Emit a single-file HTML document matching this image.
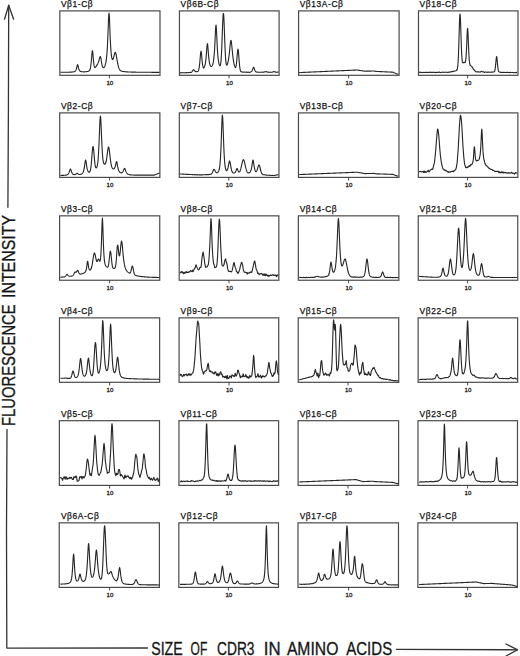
<!DOCTYPE html>
<html><head><meta charset="utf-8"><style>
html,body{margin:0;padding:0;background:#fff;}
body{width:520px;height:656px;overflow:hidden;font-family:"Liberation Sans",sans-serif;}
svg{display:block;}
</style></head><body>
<svg width="520" height="656" viewBox="0 0 520 656">
<rect width="520" height="656" fill="#fff"/>
<g fill="none" stroke="#333" stroke-width="1.3" stroke-linecap="round" stroke-linejoin="round">
<path d="M8.7,5.4 L8.4,110 L7.9,207.3"/>
<path d="M7.0,429.4 L6.5,530 L6.8,648.1 L147.5,648.0"/>
<path d="M396.4,649.3 L517.4,649.8"/>
<path d="M4.5,19.2 L8.7,5.2 L13.6,19.2"/>
<path d="M506,644 L517.6,649.8 L506,656"/>
</g>
<text x="151.20" y="655.4" textLength="31.60" font-family="Liberation Sans, sans-serif" font-size="17.6" fill="#151515" stroke="#151515" stroke-width="0.3" lengthAdjust="spacingAndGlyphs">SIZE</text>
<text x="190.60" y="655.4" textLength="16.60" font-family="Liberation Sans, sans-serif" font-size="17.6" fill="#151515" stroke="#151515" stroke-width="0.3" lengthAdjust="spacingAndGlyphs">OF</text>
<text x="217.00" y="655.4" textLength="37.50" font-family="Liberation Sans, sans-serif" font-size="17.6" fill="#151515" stroke="#151515" stroke-width="0.3" lengthAdjust="spacingAndGlyphs">CDR3</text>
<text x="263.80" y="655.4" textLength="16.80" font-family="Liberation Sans, sans-serif" font-size="17.6" fill="#151515" stroke="#151515" stroke-width="0.3" lengthAdjust="spacingAndGlyphs">IN</text>
<text x="286.90" y="655.4" textLength="51.50" font-family="Liberation Sans, sans-serif" font-size="17.6" fill="#151515" stroke="#151515" stroke-width="0.3" lengthAdjust="spacingAndGlyphs">AMINO</text>
<text x="346.20" y="655.4" textLength="46.00" font-family="Liberation Sans, sans-serif" font-size="17.6" fill="#151515" stroke="#151515" stroke-width="0.3" lengthAdjust="spacingAndGlyphs">ACIDS</text>
<text transform="translate(15.1,425.90) rotate(-90)" textLength="121.50" font-family="Liberation Sans, sans-serif" font-size="17.6" fill="#151515" stroke="#151515" stroke-width="0.3" lengthAdjust="spacingAndGlyphs">FLUORESCENCE</text>
<text transform="translate(15.1,298.00) rotate(-90)" textLength="83.00" font-family="Liberation Sans, sans-serif" font-size="17.6" fill="#151515" stroke="#151515" stroke-width="0.3" lengthAdjust="spacingAndGlyphs">INTENSITY</text>
<rect x="59.84" y="10.90" width="100.15" height="64.40" fill="none" stroke="#4a4a4a" stroke-width="1.2"/>
<text x="60.95" y="6.80" font-family="Liberation Sans, sans-serif" font-weight="normal" font-size="8.4" letter-spacing="0.6" fill="#111" stroke="#111" stroke-width="0.25">Vβ1-Cβ</text>
<path d="M109.40,75.30 V78.40" stroke="#333" stroke-width="0.9"/>
<text x="109.80" y="84.70" font-family="Liberation Sans, sans-serif" font-size="6.1" fill="#1a1a1a" stroke="#1a1a1a" stroke-width="0.3" text-anchor="middle">10</text>
<polyline fill="none" stroke="#262626" stroke-width="1.12" stroke-linejoin="round" points="60.45,72.31 60.75,72.30 61.05,72.30 61.35,72.30 61.65,72.30 61.95,72.30 62.25,72.29 62.55,72.29 62.85,72.29 63.15,72.29 63.45,72.28 63.75,72.28 64.05,72.28 64.35,72.27 64.65,72.27 64.95,72.27 65.25,72.26 65.55,72.26 65.85,72.26 66.15,72.25 66.45,72.25 66.75,72.24 67.05,72.24 67.35,72.23 67.65,72.23 67.95,72.22 68.25,72.21 68.55,72.21 68.85,72.20 69.15,72.19 69.45,72.18 69.75,72.17 70.05,72.16 70.35,72.15 70.65,72.14 70.95,72.12 71.25,72.10 71.55,72.08 71.85,72.06 72.15,72.04 72.45,72.01 72.75,71.97 73.05,71.93 73.35,71.88 73.65,71.83 73.95,71.75 74.25,71.66 74.55,71.55 74.85,71.39 75.15,71.18 75.45,70.88 75.75,70.47 76.05,69.89 76.35,69.09 76.65,68.02 76.95,66.69 77.25,65.35 77.55,64.62 77.85,65.00 78.15,66.20 78.45,67.57 78.75,68.72 79.05,69.60 79.35,70.24 79.65,70.69 79.95,71.01 80.25,71.23 80.55,71.39 80.85,71.51 81.15,71.60 81.45,71.66 81.75,71.71 82.05,71.75 82.35,71.78 82.65,71.80 82.95,71.81 83.25,71.82 83.55,71.83 83.85,71.83 84.15,71.82 84.45,71.82 84.75,71.81 85.05,71.79 85.35,71.78 85.65,71.76 85.95,71.73 86.25,71.70 86.55,71.66 86.85,71.62 87.15,71.57 87.45,71.51 87.75,71.44 88.05,71.35 88.35,71.25 88.65,71.12 88.95,70.95 89.25,70.72 89.55,70.38 89.85,69.88 90.15,69.11 90.45,67.95 90.75,66.26 91.05,63.92 91.35,60.88 91.65,57.24 91.95,53.47 92.25,50.81 92.55,50.74 92.85,53.24 93.15,56.83 93.45,60.28 93.75,63.08 94.05,65.13 94.35,66.47 94.65,67.23 94.95,67.53 95.25,67.50 95.55,67.26 95.85,66.88 96.15,66.42 96.45,65.92 96.75,65.40 97.05,64.89 97.35,64.38 97.65,63.86 97.95,63.28 98.25,62.61 98.55,61.79 98.85,60.82 99.15,59.72 99.45,58.54 99.75,57.44 100.05,56.66 100.35,56.54 100.65,57.26 100.95,58.70 101.25,60.50 101.55,62.35 101.85,64.03 102.15,65.44 102.45,66.50 102.75,67.23 103.05,67.65 103.35,67.81 103.65,67.76 103.95,67.54 104.25,67.18 104.55,66.68 104.85,66.03 105.15,65.22 105.45,64.20 105.75,62.93 106.05,61.33 106.35,59.30 106.65,56.69 106.95,53.35 107.25,49.05 107.55,43.58 107.85,36.80 108.15,28.92 108.45,20.93 108.75,14.85 109.05,13.06 109.35,16.38 109.65,23.27 109.95,31.27 110.25,38.68 110.55,44.81 110.85,49.60 111.15,53.20 111.45,55.82 111.75,57.63 112.05,58.78 112.35,59.38 112.65,59.50 112.95,59.22 113.25,58.59 113.55,57.70 113.85,56.61 114.15,55.41 114.45,54.22 114.75,53.20 115.05,52.53 115.35,52.36 115.65,52.80 115.95,53.80 116.25,55.22 116.55,56.90 116.85,58.69 117.15,60.47 117.45,62.17 117.75,63.73 118.05,65.13 118.35,66.35 118.65,67.38 118.95,68.24 119.25,68.93 119.55,69.49 119.85,69.92 120.15,70.26 120.45,70.53 120.75,70.73 121.05,70.90 121.35,71.03 121.65,71.13 121.95,71.22 122.25,71.30 122.55,71.36 122.85,71.42 123.15,71.47 123.45,71.52 123.75,71.57 124.05,71.61 124.35,71.64 124.65,71.68 124.95,71.71 125.25,71.74 125.55,71.77 125.85,71.79 126.15,71.82 126.45,71.84 126.75,71.86 127.05,71.88 127.35,71.90 127.65,71.92 127.95,71.94 128.25,71.95 128.55,71.97 128.85,71.98 129.15,71.99 129.45,72.01 129.75,72.02 130.05,72.03 130.35,72.04 130.65,72.05 130.95,72.06 131.25,72.07 131.55,72.08 131.85,72.09 132.15,72.10 132.45,72.11 132.75,72.12 133.05,72.12 133.35,72.13 133.65,72.14 133.95,72.14 134.25,72.15 134.55,72.16 134.85,72.16 135.15,72.17 135.45,72.17 135.75,72.18 136.05,72.18 136.35,72.19 136.65,72.19 136.95,72.20 137.25,72.20 137.55,72.21 137.85,72.21 138.15,72.22 138.45,72.22 138.75,72.22 139.05,72.23 139.35,72.23 139.65,72.23 139.95,72.24 140.25,72.24 140.55,72.24 140.85,72.25 141.15,72.25 141.45,72.25 141.75,72.25 142.05,72.26 142.35,72.26 142.65,72.26 142.95,72.27 143.25,72.27 143.55,72.27 143.85,72.27 144.15,72.27 144.45,72.28 144.75,72.28 145.05,72.28 145.35,72.28 145.65,72.28 145.95,72.29 146.25,72.29 146.55,72.29 146.85,72.29 147.15,72.29 147.45,72.30 147.75,72.30 148.05,72.30 148.35,72.30 148.65,72.30 148.95,72.30 149.25,72.30 149.55,72.31 149.85,72.31 150.15,72.31 150.45,72.31 150.75,72.31 151.05,72.31 151.35,72.31 151.65,72.32 151.95,72.32 152.25,72.32 152.55,72.32 152.85,72.32 153.15,72.32 153.45,72.32 153.75,72.32 154.05,72.32 154.35,72.33 154.65,72.33 154.95,72.33 155.25,72.33 155.55,72.33 155.85,72.33 156.15,72.33 156.45,72.33 156.75,72.33 157.05,72.33 157.35,72.33 157.65,72.33 157.95,72.34 158.25,72.34 158.55,72.34 158.85,72.34 159.15,72.34 159.45,72.34"/>
<rect x="179.44" y="10.90" width="99.65" height="64.40" fill="none" stroke="#4a4a4a" stroke-width="1.2"/>
<text x="180.55" y="6.80" font-family="Liberation Sans, sans-serif" font-weight="normal" font-size="8.4" letter-spacing="0.6" fill="#111" stroke="#111" stroke-width="0.25">Vβ6B-Cβ</text>
<path d="M229.00,75.30 V78.40" stroke="#333" stroke-width="0.9"/>
<text x="229.40" y="84.70" font-family="Liberation Sans, sans-serif" font-size="6.1" fill="#1a1a1a" stroke="#1a1a1a" stroke-width="0.3" text-anchor="middle">10</text>
<polyline fill="none" stroke="#262626" stroke-width="1.12" stroke-linejoin="round" points="180.05,72.86 180.35,72.84 180.65,72.80 180.95,72.82 181.25,72.75 181.55,72.65 181.85,72.72 182.15,72.83 182.45,72.80 182.75,72.73 183.05,72.78 183.35,72.80 183.65,72.80 183.95,72.75 184.25,72.69 184.55,72.70 184.85,72.76 185.15,72.84 185.45,72.83 185.75,72.70 186.05,72.62 186.35,72.66 186.65,72.64 186.95,72.66 187.25,72.79 187.55,72.81 187.85,72.72 188.15,72.65 188.45,72.63 188.75,72.52 189.05,72.48 189.35,72.56 189.65,72.46 189.95,72.28 190.25,72.33 190.55,72.53 190.85,72.59 191.15,72.42 191.45,72.19 191.75,71.94 192.05,71.60 192.35,71.19 192.65,70.70 192.95,70.23 193.25,69.86 193.55,69.65 193.85,69.74 194.15,70.09 194.45,70.51 194.75,70.96 195.05,71.26 195.35,71.39 195.65,71.60 195.95,71.72 196.25,71.72 196.55,71.68 196.85,71.61 197.15,71.62 197.45,71.56 197.75,71.46 198.05,71.27 198.35,70.77 198.65,69.96 198.95,68.84 199.25,67.19 199.55,64.90 199.85,61.94 200.15,58.38 200.45,54.84 200.75,52.14 201.05,51.19 201.35,52.58 201.65,55.56 201.95,58.93 202.25,62.04 202.55,64.49 202.85,66.22 203.15,67.40 203.45,67.96 203.75,67.95 204.05,67.63 204.35,67.08 204.65,66.28 204.95,65.29 205.25,64.06 205.55,62.36 205.85,59.87 206.15,56.76 206.45,53.16 206.75,49.10 207.05,45.47 207.35,43.67 207.65,44.50 207.95,47.56 208.25,51.55 208.55,55.28 208.85,58.33 209.15,60.74 209.45,62.58 209.75,64.03 210.05,65.09 210.35,65.78 210.65,66.20 210.95,66.46 211.25,66.57 211.55,66.44 211.85,66.15 212.15,65.76 212.45,65.20 212.75,64.48 213.05,63.50 213.35,61.95 213.65,59.88 213.95,57.36 214.25,54.13 214.55,50.02 214.85,44.71 215.15,38.26 215.45,31.64 215.75,26.56 216.05,25.15 216.35,28.10 216.65,33.84 216.95,40.47 217.25,46.69 217.55,51.80 217.85,55.77 218.15,58.79 218.45,60.95 218.75,62.68 219.05,64.12 219.35,65.04 219.65,65.52 219.95,65.77 220.25,65.57 220.55,64.54 220.85,62.51 221.15,59.22 221.45,54.36 221.75,48.00 222.05,40.42 222.35,32.13 222.65,24.03 222.95,17.32 223.25,13.46 223.55,13.50 223.85,17.48 224.15,24.34 224.45,32.59 224.75,40.88 225.05,48.33 225.35,54.46 225.65,59.12 225.95,62.37 226.25,64.24 226.55,65.02 226.85,65.15 227.15,64.77 227.45,64.04 227.75,63.06 228.05,61.84 228.35,60.33 228.65,58.43 228.95,56.30 229.25,53.87 229.55,51.11 229.85,48.14 230.15,45.16 230.45,42.53 230.75,40.74 231.05,40.40 231.35,41.72 231.65,44.20 231.95,47.21 232.25,50.34 232.55,53.42 232.85,56.25 233.15,58.62 233.45,60.61 233.75,62.35 234.05,63.93 234.35,65.21 234.65,66.13 234.95,66.85 235.25,67.35 235.55,67.44 235.85,66.94 236.15,65.77 236.45,63.73 236.75,60.66 237.05,57.05 237.35,53.48 237.65,50.49 237.95,49.02 238.25,49.88 238.55,52.75 238.85,56.67 239.15,60.72 239.45,64.23 239.75,66.98 240.05,69.00 240.35,70.38 240.65,71.25 240.95,71.66 241.25,71.70 241.55,71.68 241.85,71.85 242.15,72.07 242.45,72.08 242.75,72.13 243.05,72.20 243.35,72.10 243.65,72.04 243.95,72.03 244.25,72.06 244.55,72.20 244.85,72.19 245.15,72.10 245.45,72.16 245.75,72.20 246.05,72.19 246.35,72.15 246.65,72.08 246.95,72.08 247.25,72.17 247.55,72.38 247.85,72.43 248.15,72.23 248.45,72.14 248.75,72.21 249.05,72.27 249.35,72.36 249.65,72.43 249.95,72.32 250.25,72.10 250.55,71.95 250.85,71.90 251.15,71.80 251.45,71.62 251.75,71.39 252.05,70.91 252.35,70.16 252.65,69.35 252.95,68.59 253.25,67.83 253.55,67.32 253.85,67.53 254.15,68.20 254.45,68.99 254.75,69.85 255.05,70.68 255.35,71.31 255.65,71.61 255.95,71.73 256.25,71.88 256.55,72.03 256.85,72.07 257.15,72.12 257.45,72.20 257.75,72.18 258.05,72.14 258.35,72.19 258.65,72.25 258.95,72.24 259.25,72.23 259.55,72.23 259.85,72.21 260.15,72.21 260.45,72.24 260.75,72.30 261.05,72.23 261.35,72.09 261.65,72.17 261.95,72.27 262.25,72.21 262.55,72.19 262.85,72.20 263.15,72.13 263.45,72.13 263.75,72.19 264.05,72.10 264.35,71.90 264.65,71.84 264.95,71.86 265.25,71.73 265.55,71.71 265.85,71.77 266.15,71.58 266.45,71.57 266.75,71.89 267.05,72.01 267.35,72.07 267.65,72.20 267.95,72.19 268.25,72.19 268.55,72.17 268.85,72.15 269.15,72.23 269.45,72.30 269.75,72.34 270.05,72.29 270.35,72.17 270.65,72.21 270.95,72.33 271.25,72.27 271.55,72.22 271.85,72.27 272.15,72.27 272.45,72.14 272.75,71.92 273.05,71.81 273.35,71.82 273.65,71.72 273.95,71.54 274.25,71.53 274.55,71.70 274.85,71.82 275.15,71.95 275.45,72.14 275.75,72.17 276.05,72.21 276.35,72.32 276.65,72.28 276.95,72.21 277.25,72.17 277.55,72.13 277.85,72.08 278.15,72.10 278.45,72.14"/>
<rect x="298.59" y="10.90" width="100.50" height="64.40" fill="none" stroke="#4a4a4a" stroke-width="1.2"/>
<text x="299.70" y="6.80" font-family="Liberation Sans, sans-serif" font-weight="normal" font-size="8.4" letter-spacing="0.6" fill="#111" stroke="#111" stroke-width="0.25">Vβ13A-Cβ</text>
<path d="M348.60,75.30 V78.40" stroke="#333" stroke-width="0.9"/>
<text x="349.00" y="84.70" font-family="Liberation Sans, sans-serif" font-size="6.1" fill="#1a1a1a" stroke="#1a1a1a" stroke-width="0.3" text-anchor="middle">10</text>
<polyline fill="none" stroke="#262626" stroke-width="1.12" stroke-linejoin="round" points="299.20,72.59 299.50,72.58 299.80,72.56 300.10,72.55 300.40,72.54 300.70,72.52 301.00,72.51 301.30,72.50 301.60,72.48 301.90,72.47 302.20,72.46 302.50,72.44 302.80,72.43 303.10,72.42 303.40,72.40 303.70,72.39 304.00,72.38 304.30,72.36 304.60,72.35 304.90,72.34 305.20,72.32 305.50,72.31 305.80,72.30 306.10,72.28 306.40,72.27 306.70,72.25 307.00,72.24 307.30,72.23 307.60,72.21 307.90,72.20 308.20,72.19 308.50,72.17 308.80,72.16 309.10,72.15 309.40,72.13 309.70,72.12 310.00,72.11 310.30,72.09 310.60,72.08 310.90,72.07 311.20,72.05 311.50,72.04 311.80,72.03 312.10,72.01 312.40,72.00 312.70,71.99 313.00,71.97 313.30,71.96 313.60,71.95 313.90,71.93 314.20,71.92 314.50,71.91 314.80,71.89 315.10,71.88 315.40,71.86 315.70,71.85 316.00,71.84 316.30,71.82 316.60,71.81 316.90,71.80 317.20,71.78 317.50,71.77 317.80,71.76 318.10,71.74 318.40,71.73 318.70,71.72 319.00,71.70 319.30,71.69 319.60,71.68 319.90,71.66 320.20,71.65 320.50,71.64 320.80,71.62 321.10,71.61 321.40,71.60 321.70,71.58 322.00,71.57 322.30,71.56 322.60,71.54 322.90,71.53 323.20,71.52 323.50,71.50 323.80,71.49 324.10,71.47 324.40,71.46 324.70,71.45 325.00,71.43 325.30,71.42 325.60,71.41 325.90,71.39 326.20,71.38 326.50,71.37 326.80,71.35 327.10,71.34 327.40,71.33 327.70,71.31 328.00,71.30 328.30,71.29 328.60,71.27 328.90,71.26 329.20,71.25 329.50,71.23 329.80,71.22 330.10,71.21 330.40,71.19 330.70,71.18 331.00,71.17 331.30,71.15 331.60,71.14 331.90,71.13 332.20,71.11 332.50,71.10 332.80,71.08 333.10,71.07 333.40,71.06 333.70,71.04 334.00,71.03 334.30,71.02 334.60,71.00 334.90,70.99 335.20,70.98 335.50,70.96 335.80,70.95 336.10,70.94 336.40,70.92 336.70,70.91 337.00,70.90 337.30,70.88 337.60,70.87 337.90,70.86 338.20,70.84 338.50,70.83 338.80,70.82 339.10,70.80 339.40,70.79 339.70,70.78 340.00,70.76 340.30,70.75 340.60,70.74 340.90,70.72 341.20,70.71 341.50,70.69 341.80,70.68 342.10,70.67 342.40,70.65 342.70,70.64 343.00,70.63 343.30,70.61 343.60,70.60 343.90,70.59 344.20,70.57 344.50,70.56 344.80,70.55 345.10,70.53 345.40,70.52 345.70,70.51 346.00,70.49 346.30,70.48 346.60,70.47 346.90,70.45 347.20,70.44 347.50,70.43 347.80,70.41 348.10,70.40 348.40,70.39 348.70,70.37 349.00,70.36 349.30,70.35 349.60,70.33 349.90,70.32 350.20,70.30 350.50,70.29 350.80,70.28 351.10,70.26 351.40,70.25 351.70,70.24 352.00,70.22 352.30,70.21 352.60,70.20 352.90,70.18 353.20,70.17 353.50,70.16 353.80,70.14 354.10,70.13 354.40,70.12 354.70,70.10 355.00,70.09 355.30,70.08 355.60,70.06 355.90,70.05 356.20,70.04 356.50,70.02 356.80,70.01 357.10,70.02 357.40,70.06 357.70,70.11 358.00,70.15 358.30,70.20 358.60,70.24 358.90,70.29 359.20,70.33 359.50,70.38 359.80,70.42 360.10,70.47 360.40,70.51 360.70,70.56 361.00,70.60 361.30,70.65 361.60,70.69 361.90,70.74 362.20,70.78 362.50,70.83 362.80,70.87 363.10,70.92 363.40,70.96 363.70,71.01 364.00,71.05 364.30,71.10 364.60,71.14 364.90,71.19 365.20,71.20 365.50,71.19 365.80,71.18 366.10,71.18 366.40,71.17 366.70,71.16 367.00,71.16 367.30,71.15 367.60,71.14 367.90,71.14 368.20,71.13 368.50,71.12 368.80,71.12 369.10,71.11 369.40,71.10 369.70,71.10 370.00,71.09 370.30,71.08 370.60,71.08 370.90,71.07 371.20,71.06 371.50,71.06 371.80,71.05 372.10,71.04 372.40,71.04 372.70,71.03 373.00,71.02 373.30,71.02 373.60,71.01 373.90,71.00 374.20,71.04 374.50,71.10 374.80,71.16 375.10,71.22 375.40,71.28 375.70,71.34 376.00,71.40 376.30,71.41 376.60,71.43 376.90,71.44 377.20,71.46 377.50,71.47 377.80,71.48 378.10,71.50 378.40,71.51 378.70,71.53 379.00,71.54 379.30,71.56 379.60,71.57 379.90,71.58 380.20,71.60 380.50,71.61 380.80,71.63 381.10,71.64 381.40,71.65 381.70,71.67 382.00,71.68 382.30,71.70 382.60,71.71 382.90,71.72 383.20,71.74 383.50,71.75 383.80,71.77 384.10,71.78 384.40,71.80 384.70,71.81 385.00,71.82 385.30,71.84 385.60,71.85 385.90,71.87 386.20,71.88 386.50,71.89 386.80,71.91 387.10,71.92 387.40,71.94 387.70,71.95 388.00,71.96 388.30,71.98 388.60,71.99 388.90,72.01 389.20,72.02 389.50,72.04 389.80,72.05 390.10,72.06 390.40,72.08 390.70,72.09 391.00,72.11 391.30,72.12 391.60,72.13 391.90,72.15 392.20,72.16 392.50,72.18 392.80,72.19 393.10,72.25 393.40,72.38 393.70,72.52 394.00,72.65 394.30,72.79 394.60,72.92 394.90,73.06 395.20,73.19 395.50,73.33 395.80,73.46 396.10,73.60 396.40,73.73 396.70,73.87 397.00,74.00 397.30,74.00 397.60,74.00 397.90,74.00 398.20,74.00 398.50,74.00"/>
<rect x="418.49" y="10.90" width="99.50" height="64.40" fill="none" stroke="#4a4a4a" stroke-width="1.2"/>
<text x="419.60" y="6.80" font-family="Liberation Sans, sans-serif" font-weight="normal" font-size="8.4" letter-spacing="0.6" fill="#111" stroke="#111" stroke-width="0.25">Vβ18-Cβ</text>
<path d="M467.60,75.30 V78.40" stroke="#333" stroke-width="0.9"/>
<text x="468.00" y="84.70" font-family="Liberation Sans, sans-serif" font-size="6.1" fill="#1a1a1a" stroke="#1a1a1a" stroke-width="0.3" text-anchor="middle">10</text>
<polyline fill="none" stroke="#262626" stroke-width="1.12" stroke-linejoin="round" points="419.10,72.38 419.40,72.45 419.70,72.39 420.00,72.17 420.30,72.13 420.60,72.40 420.90,72.46 421.20,72.36 421.50,72.44 421.80,72.55 422.10,72.65 422.40,72.55 422.70,72.43 423.00,72.49 423.30,72.45 423.60,72.40 423.90,72.38 424.20,72.39 424.50,72.47 424.80,72.50 425.10,72.54 425.40,72.50 425.70,72.30 426.00,72.30 426.30,72.37 426.60,72.37 426.90,72.50 427.20,72.51 427.50,72.41 427.80,72.38 428.10,72.26 428.40,72.23 428.70,72.42 429.00,72.51 429.30,72.42 429.60,72.26 429.90,72.11 430.20,72.15 430.50,72.28 430.80,72.43 431.10,72.48 431.40,72.34 431.70,72.30 432.00,72.41 432.30,72.32 432.60,72.27 432.90,72.37 433.20,72.30 433.50,72.20 433.80,72.24 434.10,72.39 434.40,72.46 434.70,72.38 435.00,72.35 435.30,72.44 435.60,72.63 435.90,72.58 436.20,72.39 436.50,72.41 436.80,72.48 437.10,72.39 437.40,72.28 437.70,72.32 438.00,72.42 438.30,72.37 438.60,72.29 438.90,72.28 439.20,72.14 439.50,72.07 439.80,72.28 440.10,72.45 440.40,72.49 440.70,72.58 441.00,72.58 441.30,72.41 441.60,72.26 441.90,72.20 442.20,72.16 442.50,72.22 442.80,72.30 443.10,72.37 443.40,72.31 443.70,72.17 444.00,72.23 444.30,72.31 444.60,72.34 444.90,72.28 445.20,72.22 445.50,72.27 445.80,72.26 446.10,72.25 446.40,72.20 446.70,72.18 447.00,72.33 447.30,72.47 447.60,72.40 447.90,72.34 448.20,72.39 448.50,72.28 448.80,72.13 449.10,72.09 449.40,72.16 449.70,72.16 450.00,72.01 450.30,71.86 450.60,71.92 450.90,71.94 451.20,71.80 451.50,71.63 451.80,71.55 452.10,71.61 452.40,71.69 452.70,71.49 453.00,71.28 453.30,71.28 453.60,71.33 453.90,71.33 454.20,71.17 454.50,71.04 454.80,71.04 455.10,71.01 455.40,70.93 455.70,70.84 456.00,70.70 456.30,70.54 456.60,70.31 456.90,69.92 457.20,69.29 457.50,68.07 457.80,65.82 458.10,62.02 458.40,56.21 458.70,48.17 459.00,38.33 459.30,27.99 459.60,19.09 459.90,14.02 460.20,14.69 460.50,20.56 460.80,29.46 461.10,39.20 461.40,47.68 461.70,54.15 462.00,58.74 462.30,61.41 462.60,62.60 462.90,62.89 463.20,62.84 463.50,62.68 463.80,62.38 464.10,62.24 464.40,62.40 464.70,62.62 465.00,62.62 465.30,62.17 465.60,60.97 465.90,58.69 466.20,54.91 466.50,49.29 466.80,42.24 467.10,34.86 467.40,29.16 467.70,28.29 468.00,33.03 468.30,40.56 468.60,48.22 468.90,54.57 469.20,59.21 469.50,62.27 469.80,64.04 470.10,65.07 470.40,65.67 470.70,65.89 471.00,65.97 471.30,66.13 471.60,66.39 471.90,66.68 472.20,67.06 472.50,67.59 472.80,68.12 473.10,68.66 473.40,69.18 473.70,69.51 474.00,69.76 474.30,70.15 474.60,70.68 474.90,70.96 475.20,71.00 475.50,71.23 475.80,71.56 476.10,71.78 476.40,71.94 476.70,71.98 477.00,71.94 477.30,71.89 477.60,71.78 477.90,71.62 478.20,71.66 478.50,71.98 478.80,72.08 479.10,72.03 479.40,72.00 479.70,71.98 480.00,72.09 480.30,72.15 480.60,71.94 480.90,71.63 481.20,71.50 481.50,71.39 481.80,71.30 482.10,71.46 482.40,71.76 482.70,71.95 483.00,71.92 483.30,71.86 483.60,71.90 483.90,72.07 484.20,72.27 484.50,72.40 484.80,72.40 485.10,72.21 485.40,72.00 485.70,71.96 486.00,72.00 486.30,72.16 486.60,72.29 486.90,72.21 487.20,72.16 487.50,72.25 487.80,72.34 488.10,72.28 488.40,72.10 488.70,72.03 489.00,72.14 489.30,72.25 489.60,72.20 489.90,72.20 490.20,72.30 490.50,72.22 490.80,72.13 491.10,72.11 491.40,72.07 491.70,72.11 492.00,72.15 492.30,72.16 492.60,72.11 492.90,71.97 493.20,71.95 493.50,72.01 493.80,71.96 494.10,71.84 494.40,71.66 494.70,71.13 495.00,69.80 495.30,67.75 495.60,65.19 495.90,62.06 496.20,58.73 496.50,56.47 496.80,56.90 497.10,59.65 497.40,63.02 497.70,66.11 498.00,68.58 498.30,70.32 498.60,71.30 498.90,71.70 499.20,71.87 499.50,71.94 499.80,72.02 500.10,72.20 500.40,72.36 500.70,72.36 501.00,72.37 501.30,72.43 501.60,72.37 501.90,72.36 502.20,72.46 502.50,72.41 502.80,72.34 503.10,72.39 503.40,72.42 503.70,72.41 504.00,72.51 504.30,72.55 504.60,72.32 504.90,72.26 505.20,72.47 505.50,72.55 505.80,72.55 506.10,72.53 506.40,72.45 506.70,72.37 507.00,72.29 507.30,72.37 507.60,72.41 507.90,72.32 508.20,72.34 508.50,72.45 508.80,72.50 509.10,72.55 509.40,72.66 509.70,72.68 510.00,72.53 510.30,72.35 510.60,72.39 510.90,72.49 511.20,72.50 511.50,72.49 511.80,72.44 512.10,72.41 512.40,72.49 512.70,72.53 513.00,72.51 513.30,72.57 513.60,72.67 513.90,72.69 514.20,72.69 514.50,72.66 514.80,72.59 515.10,72.63 515.40,72.74 515.70,72.72 516.00,72.63 516.30,72.49 516.60,72.35 516.90,72.37 517.20,72.49"/>
<rect x="59.72" y="112.90" width="100.15" height="64.50" fill="none" stroke="#4a4a4a" stroke-width="1.2"/>
<text x="60.95" y="108.80" font-family="Liberation Sans, sans-serif" font-weight="normal" font-size="8.4" letter-spacing="0.6" fill="#111" stroke="#111" stroke-width="0.25">Vβ2-Cβ</text>
<path d="M109.60,177.40 V180.50" stroke="#333" stroke-width="0.9"/>
<text x="110.00" y="186.80" font-family="Liberation Sans, sans-serif" font-size="6.1" fill="#1a1a1a" stroke="#1a1a1a" stroke-width="0.3" text-anchor="middle">10</text>
<polyline fill="none" stroke="#262626" stroke-width="1.12" stroke-linejoin="round" points="60.45,175.45 60.75,175.45 61.05,175.44 61.35,175.43 61.65,175.42 61.95,175.41 62.25,175.40 62.55,175.39 62.85,175.38 63.15,175.36 63.45,175.35 63.75,175.33 64.05,175.31 64.35,175.29 64.65,175.27 64.95,175.24 65.25,175.21 65.55,175.17 65.85,175.13 66.15,175.08 66.45,175.01 66.75,174.93 67.05,174.83 67.35,174.69 67.65,174.51 67.95,174.26 68.25,173.92 68.55,173.48 68.85,172.90 69.15,172.17 69.45,171.29 69.75,170.32 70.05,169.45 70.35,169.01 70.65,169.23 70.95,169.97 71.25,170.92 71.55,171.83 71.85,172.60 72.15,173.20 72.45,173.67 72.75,174.01 73.05,174.26 73.35,174.44 73.65,174.55 73.95,174.62 74.25,174.64 74.55,174.63 74.85,174.57 75.15,174.47 75.45,174.33 75.75,174.15 76.05,173.93 76.35,173.70 76.65,173.50 76.95,173.40 77.25,173.44 77.55,173.60 77.85,173.81 78.15,174.02 78.45,174.20 78.75,174.34 79.05,174.44 79.35,174.49 79.65,174.52 79.95,174.51 80.25,174.47 80.55,174.42 80.85,174.33 81.15,174.23 81.45,174.09 81.75,173.92 82.05,173.71 82.35,173.43 82.65,173.07 82.95,172.59 83.25,171.96 83.55,171.12 83.85,170.02 84.15,168.60 84.45,166.80 84.75,164.66 85.05,162.39 85.35,160.58 85.65,160.01 85.95,160.96 86.25,162.91 86.55,165.07 86.85,167.00 87.15,168.56 87.45,169.75 87.75,170.64 88.05,171.27 88.35,171.71 88.65,171.99 88.95,172.15 89.25,172.17 89.55,172.04 89.85,171.72 90.15,171.10 90.45,170.06 90.75,168.48 91.05,166.23 91.35,163.28 91.65,159.72 91.95,155.79 92.25,151.92 92.55,148.68 92.85,146.73 93.15,146.55 93.45,148.15 93.75,151.03 94.05,154.54 94.35,158.11 94.65,161.32 94.95,163.92 95.25,165.80 95.55,167.02 95.85,167.67 96.15,167.89 96.45,167.77 96.75,167.35 97.05,166.62 97.35,165.47 97.65,163.76 97.95,161.26 98.25,157.75 98.55,153.08 98.85,147.19 99.15,140.23 99.45,132.61 99.75,125.11 100.05,119.04 100.35,116.09 100.65,117.36 100.95,122.26 101.25,129.14 101.55,136.51 101.85,143.44 102.15,149.41 102.45,154.20 102.75,157.79 103.05,160.33 103.35,162.02 103.65,163.09 103.95,163.73 104.25,164.08 104.55,164.23 104.85,164.19 105.15,163.97 105.45,163.53 105.75,162.82 106.05,161.78 106.35,160.37 106.65,158.59 106.95,156.49 107.25,154.17 107.55,151.80 107.85,149.62 108.15,147.93 108.45,147.05 108.75,147.22 109.05,148.43 109.35,150.44 109.65,152.94 109.95,155.63 110.25,158.27 110.55,160.69 110.85,162.77 111.15,164.49 111.45,165.83 111.75,166.84 112.05,167.58 112.35,168.10 112.65,168.47 112.95,168.71 113.25,168.85 113.55,168.90 113.85,168.84 114.15,168.67 114.45,168.35 114.75,167.84 115.05,167.11 115.35,166.11 115.65,164.85 115.95,163.42 116.25,162.15 116.55,161.59 116.85,162.12 117.15,163.54 117.45,165.28 117.75,166.94 118.05,168.35 118.35,169.48 118.65,170.37 118.95,171.06 119.25,171.59 119.55,172.00 119.85,172.31 120.15,172.54 120.45,172.71 120.75,172.82 121.05,172.88 121.35,172.88 121.65,172.82 121.95,172.69 122.25,172.47 122.55,172.16 122.85,171.73 123.15,171.19 123.45,170.52 123.75,169.78 124.05,169.05 124.35,168.53 124.65,168.41 124.95,168.78 125.25,169.49 125.55,170.34 125.85,171.17 126.15,171.90 126.45,172.52 126.75,173.02 127.05,173.43 127.35,173.75 127.65,174.00 127.95,174.20 128.25,174.35 128.55,174.47 128.85,174.57 129.15,174.64 129.45,174.71 129.75,174.76 130.05,174.81 130.35,174.84 130.65,174.88 130.95,174.91 131.25,174.93 131.55,174.96 131.85,174.98 132.15,174.99 132.45,175.01 132.75,175.03 133.05,175.04 133.35,175.05 133.65,175.06 133.95,175.07 134.25,175.08 134.55,175.09 134.85,175.10 135.15,175.10 135.45,175.11 135.75,175.11 136.05,175.12 136.35,175.12 136.65,175.13 136.95,175.13 137.25,175.13 137.55,175.14 137.85,175.14 138.15,175.14 138.45,175.15 138.75,175.15 139.05,175.15 139.35,175.15 139.65,175.15 139.95,175.16 140.25,175.16 140.55,175.16 140.85,175.16 141.15,175.16 141.45,175.16 141.75,175.16 142.05,175.16 142.35,175.17 142.65,175.17 142.95,175.17 143.25,175.17 143.55,175.17 143.85,175.17 144.15,175.17 144.45,175.17 144.75,175.17 145.05,175.17 145.35,175.17 145.65,175.17 145.95,175.17 146.25,175.17 146.55,175.17 146.85,175.17 147.15,175.17 147.45,175.17 147.75,175.17 148.05,175.17 148.35,175.17 148.65,175.17 148.95,175.17 149.25,175.17 149.55,175.17 149.85,175.17 150.15,175.17 150.45,175.17 150.75,175.16 151.05,175.16 151.35,175.16 151.65,175.16 151.95,175.16 152.25,175.16 152.55,175.16 152.85,175.16 153.15,175.16 153.45,175.16 153.75,175.16 154.05,175.14 154.35,175.02 154.65,174.90 154.95,174.78 155.25,174.66 155.55,174.54 155.85,174.42 156.15,174.30 156.45,174.18 156.75,174.06 157.05,173.94 157.35,173.82 157.65,173.71 157.95,173.59 158.25,173.47 158.55,173.35 158.85,173.23 159.15,173.17 159.45,173.17"/>
<rect x="179.32" y="112.90" width="99.65" height="64.50" fill="none" stroke="#4a4a4a" stroke-width="1.2"/>
<text x="180.55" y="108.80" font-family="Liberation Sans, sans-serif" font-weight="normal" font-size="8.4" letter-spacing="0.6" fill="#111" stroke="#111" stroke-width="0.25">Vβ7-Cβ</text>
<path d="M228.80,177.40 V180.50" stroke="#333" stroke-width="0.9"/>
<text x="229.20" y="186.80" font-family="Liberation Sans, sans-serif" font-size="6.1" fill="#1a1a1a" stroke="#1a1a1a" stroke-width="0.3" text-anchor="middle">10</text>
<polyline fill="none" stroke="#262626" stroke-width="1.12" stroke-linejoin="round" points="180.05,174.07 180.35,174.05 180.65,174.03 180.95,173.98 181.25,173.95 181.55,173.98 181.85,174.01 182.15,174.06 182.45,174.12 182.75,174.16 183.05,174.16 183.35,174.13 183.65,174.14 183.95,174.19 184.25,174.23 184.55,174.27 184.85,174.31 185.15,174.31 185.45,174.23 185.75,174.15 186.05,174.21 186.35,174.35 186.65,174.43 186.95,174.42 187.25,174.34 187.55,174.34 187.85,174.43 188.15,174.47 188.45,174.44 188.75,174.40 189.05,174.38 189.35,174.46 189.65,174.52 189.95,174.47 190.25,174.46 190.55,174.50 190.85,174.48 191.15,174.45 191.45,174.49 191.75,174.54 192.05,174.56 192.35,174.59 192.65,174.60 192.95,174.64 193.25,174.71 193.55,174.74 193.85,174.79 194.15,174.82 194.45,174.73 194.75,174.62 195.05,174.57 195.35,174.62 195.65,174.73 195.95,174.77 196.25,174.75 196.55,174.84 196.85,174.96 197.15,174.89 197.45,174.82 197.75,174.84 198.05,174.78 198.35,174.73 198.65,174.80 198.95,174.84 199.25,174.89 199.55,174.96 199.85,174.89 200.15,174.85 200.45,174.86 200.75,174.75 201.05,174.76 201.35,174.92 201.65,174.94 201.95,174.83 202.25,174.78 202.55,174.82 202.85,174.83 203.15,174.80 203.45,174.74 203.75,174.69 204.05,174.70 204.35,174.72 204.65,174.71 204.95,174.70 205.25,174.67 205.55,174.66 205.85,174.75 206.15,174.78 206.45,174.66 206.75,174.60 207.05,174.66 207.35,174.68 207.65,174.66 207.95,174.65 208.25,174.57 208.55,174.54 208.85,174.59 209.15,174.52 209.45,174.40 209.75,174.32 210.05,174.32 210.35,174.31 210.65,174.27 210.95,174.19 211.25,173.98 211.55,173.71 211.85,173.43 212.15,173.01 212.45,172.43 212.75,171.75 213.05,170.98 213.35,170.20 213.65,169.59 213.95,169.32 214.25,169.44 214.55,169.78 214.85,170.26 215.15,170.91 215.45,171.57 215.75,172.08 216.05,172.38 216.35,172.57 216.65,172.71 216.95,172.68 217.25,172.50 217.55,172.36 217.85,172.23 218.15,171.94 218.45,171.53 218.75,170.93 219.05,170.03 219.35,168.82 219.65,167.11 219.95,164.62 220.25,161.14 220.55,156.56 220.85,150.66 221.15,143.30 221.45,134.88 221.75,126.20 222.05,118.83 222.35,115.18 222.65,116.90 222.95,123.16 223.25,131.60 223.55,140.17 223.85,147.90 224.15,154.40 224.45,159.47 224.75,163.24 225.05,165.96 225.35,167.83 225.65,169.04 225.95,169.86 226.25,170.42 226.55,170.67 226.85,170.68 227.15,170.35 227.45,169.67 227.75,168.80 228.05,167.63 228.35,166.15 228.65,164.52 228.95,162.89 229.25,161.54 229.55,160.94 229.85,161.37 230.15,162.63 230.45,164.32 230.75,166.13 231.05,167.82 231.35,169.27 231.65,170.47 231.95,171.32 232.25,171.92 232.55,172.39 232.85,172.69 233.15,172.85 233.45,172.91 233.75,172.96 234.05,172.99 234.35,172.91 234.65,172.78 234.95,172.61 235.25,172.27 235.55,171.67 235.85,171.03 236.15,170.30 236.45,169.48 236.75,168.79 237.05,168.48 237.35,168.80 237.65,169.55 237.95,170.35 238.25,171.08 238.55,171.62 238.85,171.90 239.15,172.00 239.45,171.87 239.75,171.54 240.05,171.02 240.35,170.27 240.65,169.32 240.95,168.18 241.25,166.92 241.55,165.57 241.85,164.16 242.15,162.86 242.45,161.68 242.75,160.64 243.05,159.93 243.35,159.68 243.65,159.83 243.95,160.29 244.25,161.11 244.55,162.38 244.85,163.78 245.15,165.06 245.45,166.34 245.75,167.71 246.05,168.93 246.35,169.91 246.65,170.79 246.95,171.50 247.25,171.97 247.55,172.38 247.85,172.70 248.15,172.80 248.45,172.82 248.75,172.88 249.05,172.85 249.35,172.69 249.65,172.45 249.95,172.22 250.25,171.91 250.55,171.31 250.85,170.58 251.15,169.72 251.45,168.50 251.75,166.90 252.05,164.95 252.35,162.82 252.65,160.90 252.95,159.95 253.25,160.54 253.55,162.27 253.85,164.39 254.15,166.34 254.45,167.95 254.75,169.30 255.05,170.39 255.35,171.14 255.65,171.56 255.95,171.73 256.25,171.62 256.55,171.25 256.85,170.71 257.15,169.98 257.45,169.00 257.75,167.88 258.05,166.82 258.35,165.92 258.65,165.31 258.95,165.03 259.25,165.15 259.55,165.76 259.85,166.82 260.15,168.13 260.45,169.35 260.75,170.51 261.05,171.66 261.35,172.53 261.65,173.19 261.95,173.75 262.25,174.08 262.55,174.27 262.85,174.49 263.15,174.70 263.45,174.77 263.75,174.78 264.05,174.77 264.35,174.71 264.65,174.67 264.95,174.78 265.25,174.95 265.55,175.00 265.85,175.00 266.15,175.09 266.45,175.17 266.75,175.14 267.05,175.18 267.35,175.29 267.65,175.24 267.95,175.20 268.25,175.24 268.55,175.23 268.85,175.24 269.15,175.32 269.45,175.35 269.75,175.33 270.05,175.31 270.35,175.28 270.65,175.31 270.95,175.38 271.25,175.46 271.55,175.51 271.85,175.46 272.15,175.41 272.45,175.41 272.75,175.44 273.05,175.49 273.35,175.54 273.65,175.55 273.95,175.54 274.25,175.50 274.55,175.46 274.85,175.38 275.15,175.33 275.45,175.25 275.75,175.17 276.05,175.07 276.35,174.95 276.65,174.90 276.95,174.91 277.25,174.91 277.55,174.85 277.85,174.74 278.15,174.69 278.45,174.72"/>
<rect x="298.47" y="112.90" width="100.50" height="64.50" fill="none" stroke="#4a4a4a" stroke-width="1.2"/>
<text x="299.70" y="108.80" font-family="Liberation Sans, sans-serif" font-weight="normal" font-size="8.4" letter-spacing="0.6" fill="#111" stroke="#111" stroke-width="0.25">Vβ13B-Cβ</text>
<path d="M348.60,177.40 V180.50" stroke="#333" stroke-width="0.9"/>
<text x="349.00" y="186.80" font-family="Liberation Sans, sans-serif" font-size="6.1" fill="#1a1a1a" stroke="#1a1a1a" stroke-width="0.3" text-anchor="middle">10</text>
<polyline fill="none" stroke="#262626" stroke-width="1.12" stroke-linejoin="round" points="299.20,174.58 299.50,174.56 299.80,174.55 300.10,174.54 300.40,174.53 300.70,174.51 301.00,174.50 301.30,174.49 301.60,174.48 301.90,174.46 302.20,174.45 302.50,174.44 302.80,174.43 303.10,174.42 303.40,174.40 303.70,174.39 304.00,174.38 304.30,174.37 304.60,174.35 304.90,174.34 305.20,174.33 305.50,174.32 305.80,174.30 306.10,174.29 306.40,174.28 306.70,174.27 307.00,174.25 307.30,174.24 307.60,174.23 307.90,174.22 308.20,174.21 308.50,174.19 308.80,174.18 309.10,174.17 309.40,174.16 309.70,174.14 310.00,174.13 310.30,174.12 310.60,174.11 310.90,174.09 311.20,174.08 311.50,174.07 311.80,174.06 312.10,174.05 312.40,174.03 312.70,174.02 313.00,174.01 313.30,174.00 313.60,173.98 313.90,173.97 314.20,173.96 314.50,173.95 314.80,173.93 315.10,173.92 315.40,173.91 315.70,173.90 316.00,173.88 316.30,173.87 316.60,173.86 316.90,173.85 317.20,173.84 317.50,173.82 317.80,173.81 318.10,173.80 318.40,173.79 318.70,173.77 319.00,173.76 319.30,173.75 319.60,173.74 319.90,173.72 320.20,173.71 320.50,173.70 320.80,173.69 321.10,173.68 321.40,173.66 321.70,173.65 322.00,173.64 322.30,173.63 322.60,173.61 322.90,173.60 323.20,173.59 323.50,173.58 323.80,173.56 324.10,173.55 324.40,173.54 324.70,173.53 325.00,173.52 325.30,173.50 325.60,173.49 325.90,173.48 326.20,173.47 326.50,173.45 326.80,173.44 327.10,173.43 327.40,173.42 327.70,173.40 328.00,173.39 328.30,173.38 328.60,173.37 328.90,173.35 329.20,173.34 329.50,173.33 329.80,173.32 330.10,173.31 330.40,173.29 330.70,173.28 331.00,173.27 331.30,173.26 331.60,173.24 331.90,173.23 332.20,173.22 332.50,173.21 332.80,173.19 333.10,173.18 333.40,173.17 333.70,173.16 334.00,173.15 334.30,173.13 334.60,173.12 334.90,173.11 335.20,173.10 335.50,173.08 335.80,173.07 336.10,173.06 336.40,173.05 336.70,173.03 337.00,173.02 337.30,173.01 337.60,173.00 337.90,172.98 338.20,172.97 338.50,172.96 338.80,172.95 339.10,172.94 339.40,172.92 339.70,172.91 340.00,172.90 340.30,172.89 340.60,172.87 340.90,172.86 341.20,172.85 341.50,172.84 341.80,172.82 342.10,172.81 342.40,172.80 342.70,172.79 343.00,172.78 343.30,172.76 343.60,172.75 343.90,172.74 344.20,172.73 344.50,172.71 344.80,172.70 345.10,172.69 345.40,172.68 345.70,172.66 346.00,172.65 346.30,172.64 346.60,172.63 346.90,172.62 347.20,172.60 347.50,172.59 347.80,172.58 348.10,172.57 348.40,172.55 348.70,172.54 349.00,172.53 349.30,172.52 349.60,172.50 349.90,172.49 350.20,172.48 350.50,172.47 350.80,172.45 351.10,172.44 351.40,172.43 351.70,172.42 352.00,172.41 352.30,172.39 352.60,172.38 352.90,172.37 353.20,172.36 353.50,172.34 353.80,172.33 354.10,172.32 354.40,172.31 354.70,172.29 355.00,172.28 355.30,172.27 355.60,172.26 355.90,172.25 356.20,172.23 356.50,172.22 356.80,172.21 357.10,172.22 357.40,172.27 357.70,172.32 358.00,172.38 358.30,172.43 358.60,172.48 358.90,172.53 359.20,172.59 359.50,172.64 359.80,172.69 360.10,172.74 360.40,172.80 360.70,172.85 361.00,172.90 361.30,172.95 361.60,173.01 361.90,173.06 362.20,173.11 362.50,173.16 362.80,173.22 363.10,173.27 363.40,173.32 363.70,173.37 364.00,173.43 364.30,173.48 364.60,173.53 364.90,173.58 365.20,173.60 365.50,173.59 365.80,173.58 366.10,173.58 366.40,173.57 366.70,173.56 367.00,173.56 367.30,173.55 367.60,173.54 367.90,173.54 368.20,173.53 368.50,173.52 368.80,173.52 369.10,173.51 369.40,173.50 369.70,173.50 370.00,173.49 370.30,173.48 370.60,173.48 370.90,173.47 371.20,173.46 371.50,173.46 371.80,173.45 372.10,173.44 372.40,173.44 372.70,173.43 373.00,173.42 373.30,173.42 373.60,173.41 373.90,173.40 374.20,173.44 374.50,173.50 374.80,173.56 375.10,173.62 375.40,173.68 375.70,173.74 376.00,173.80 376.30,173.81 376.60,173.82 376.90,173.83 377.20,173.84 377.50,173.85 377.80,173.86 378.10,173.87 378.40,173.88 378.70,173.90 379.00,173.91 379.30,173.92 379.60,173.93 379.90,173.94 380.20,173.95 380.50,173.96 380.80,173.97 381.10,173.98 381.40,173.99 381.70,174.00 382.00,174.01 382.30,174.02 382.60,174.03 382.90,174.04 383.20,174.05 383.50,174.06 383.80,174.08 384.10,174.09 384.40,174.10 384.70,174.11 385.00,174.12 385.30,174.13 385.60,174.14 385.90,174.15 386.20,174.16 386.50,174.17 386.80,174.18 387.10,174.19 387.40,174.20 387.70,174.21 388.00,174.22 388.30,174.23 388.60,174.24 388.90,174.26 389.20,174.27 389.50,174.28 389.80,174.29 390.10,174.30 390.40,174.31 390.70,174.32 391.00,174.33 391.30,174.34 391.60,174.35 391.90,174.36 392.20,174.37 392.50,174.38 392.80,174.39 393.10,174.44 393.40,174.56 393.70,174.68 394.00,174.80 394.30,174.92 394.60,175.04 394.90,175.16 395.20,175.28 395.50,175.40 395.80,175.52 396.10,175.64 396.40,175.76 396.70,175.88 397.00,176.00 397.30,176.00 397.60,176.00 397.90,176.00 398.20,176.00 398.50,176.00"/>
<rect x="418.37" y="112.90" width="99.50" height="64.50" fill="none" stroke="#4a4a4a" stroke-width="1.2"/>
<text x="419.60" y="108.80" font-family="Liberation Sans, sans-serif" font-weight="normal" font-size="8.4" letter-spacing="0.6" fill="#111" stroke="#111" stroke-width="0.25">Vβ20-Cβ</text>
<path d="M467.60,177.40 V180.50" stroke="#333" stroke-width="0.9"/>
<text x="468.00" y="186.80" font-family="Liberation Sans, sans-serif" font-size="6.1" fill="#1a1a1a" stroke="#1a1a1a" stroke-width="0.3" text-anchor="middle">10</text>
<polyline fill="none" stroke="#262626" stroke-width="1.12" stroke-linejoin="round" points="419.10,171.87 419.40,171.46 419.70,171.61 420.00,171.76 420.30,171.52 420.60,171.45 420.90,171.69 421.20,171.89 421.50,171.83 421.80,171.75 422.10,171.81 422.40,171.84 422.70,171.55 423.00,171.35 423.30,171.93 423.60,172.43 423.90,171.83 424.20,171.08 424.50,171.62 424.80,172.45 425.10,172.11 425.40,171.70 425.70,172.05 426.00,172.39 426.30,172.26 426.60,171.97 426.90,171.62 427.20,171.35 427.50,171.32 427.80,171.04 428.10,170.33 428.40,170.36 428.70,171.38 429.00,171.81 429.30,171.52 429.60,171.26 429.90,170.79 430.20,170.14 430.50,169.81 430.80,169.81 431.10,169.69 431.40,169.32 431.70,169.17 432.00,169.41 432.30,169.50 432.60,169.36 432.90,168.54 433.20,167.17 433.50,166.09 433.80,164.94 434.10,163.79 434.40,162.64 434.70,160.53 435.00,157.72 435.30,154.85 435.60,151.52 435.90,147.70 436.20,143.74 436.50,140.10 436.80,136.61 437.10,132.88 437.40,130.17 437.70,128.97 438.00,129.46 438.30,131.71 438.60,134.12 438.90,136.71 439.20,140.81 439.50,145.26 439.80,148.86 440.10,152.23 440.40,155.39 440.70,157.89 441.00,160.01 441.30,162.08 441.60,163.73 441.90,165.00 442.20,166.33 442.50,167.40 442.80,168.24 443.10,168.86 443.40,168.95 443.70,169.20 444.00,169.96 444.30,170.14 444.60,169.73 444.90,169.88 445.20,170.59 445.50,170.67 445.80,170.26 446.10,170.38 446.40,170.67 446.70,170.96 447.00,171.58 447.30,171.75 447.60,171.53 447.90,171.89 448.20,172.38 448.50,172.35 448.80,171.86 449.10,171.71 449.40,171.91 449.70,172.07 450.00,172.21 450.30,172.10 450.60,171.99 450.90,171.69 451.20,171.43 451.50,171.52 451.80,171.41 452.10,171.31 452.40,171.44 452.70,171.29 453.00,171.17 453.30,171.62 453.60,171.75 453.90,171.16 454.20,170.53 454.50,170.29 454.80,170.26 455.10,170.07 455.40,169.90 455.70,169.60 456.00,168.80 456.30,167.30 456.60,165.73 456.90,164.45 457.20,161.89 457.50,157.82 457.80,154.09 458.10,150.46 458.40,145.45 458.70,139.65 459.00,133.82 459.30,128.17 459.60,123.75 459.90,119.96 460.20,116.74 460.50,115.41 460.80,115.96 461.10,117.85 461.40,120.32 461.70,123.95 462.00,128.91 462.30,134.33 462.60,140.07 462.90,145.20 463.20,149.30 463.50,153.42 463.80,157.12 464.10,159.92 464.40,162.47 464.70,164.40 465.00,165.54 465.30,166.36 465.60,167.21 465.90,167.65 466.20,167.67 466.50,167.77 466.80,167.31 467.10,166.95 467.40,167.38 467.70,167.59 468.00,167.32 468.30,166.82 468.60,166.42 468.90,166.00 469.20,165.71 469.50,166.17 469.80,166.48 470.10,165.96 470.40,165.30 470.70,164.78 471.00,164.55 471.30,164.82 471.60,164.81 471.90,164.25 472.20,163.67 472.50,162.97 472.80,162.25 473.10,161.21 473.40,158.54 473.70,154.17 474.00,149.47 474.30,146.73 474.60,147.84 474.90,151.77 475.20,155.94 475.50,158.62 475.80,160.04 476.10,160.57 476.40,160.74 476.70,160.90 477.00,160.58 477.30,160.38 477.60,160.41 477.90,160.40 478.20,160.38 478.50,160.19 478.80,159.76 479.10,159.18 479.40,158.53 479.70,157.24 480.00,155.41 480.30,153.17 480.60,149.74 480.90,144.96 481.20,138.66 481.50,131.87 481.80,129.00 482.10,132.46 482.40,139.06 482.70,145.76 483.00,151.13 483.30,154.70 483.60,157.47 483.90,159.45 484.20,160.52 484.50,161.62 484.80,162.98 485.10,163.71 485.40,163.98 485.70,164.89 486.00,165.57 486.30,165.60 486.60,165.59 486.90,165.88 487.20,166.52 487.50,166.90 487.80,166.98 488.10,167.24 488.40,167.71 488.70,167.86 489.00,168.15 489.30,168.65 489.60,168.61 489.90,168.49 490.20,168.87 490.50,169.27 490.80,169.35 491.10,169.38 491.40,169.44 491.70,169.56 492.00,169.63 492.30,169.77 492.60,170.26 492.90,170.50 493.20,170.27 493.50,170.21 493.80,170.34 494.10,170.55 494.40,171.00 494.70,171.38 495.00,171.57 495.30,171.45 495.60,171.30 495.90,171.51 496.20,171.57 496.50,171.45 496.80,171.34 497.10,171.29 497.40,171.36 497.70,171.31 498.00,171.19 498.30,171.46 498.60,172.36 498.90,172.78 499.20,172.17 499.50,171.72 499.80,172.28 500.10,172.63 500.40,172.44 500.70,172.75 501.00,172.43 501.30,171.83 501.60,172.29 501.90,172.61 502.20,172.20 502.50,171.89 502.80,172.44 503.10,173.00 503.40,172.47 503.70,172.12 504.00,172.60 504.30,172.69 504.60,172.59 504.90,172.70 505.20,172.58 505.50,172.41 505.80,172.63 506.10,173.03 506.40,172.85 506.70,172.78 507.00,173.32 507.30,173.28 507.60,173.07 507.90,173.04 508.20,172.76 508.50,172.68 508.80,172.98 509.10,173.20 509.40,173.16 509.70,173.18 510.00,173.21 510.30,173.02 510.60,172.96 510.90,172.81 511.20,172.38 511.50,172.23 511.80,172.53 512.10,173.23 512.40,173.38 512.70,173.00 513.00,172.96 513.30,173.12 513.60,173.31 513.90,173.56 514.20,174.03 514.50,174.15 514.80,173.76 515.10,173.02 515.40,172.51 515.70,172.78 516.00,173.12 516.30,173.09 516.60,172.94 516.90,172.84 517.20,172.93"/>
<rect x="59.60" y="215.85" width="100.15" height="64.40" fill="none" stroke="#4a4a4a" stroke-width="1.2"/>
<text x="60.95" y="211.75" font-family="Liberation Sans, sans-serif" font-weight="normal" font-size="8.4" letter-spacing="0.6" fill="#111" stroke="#111" stroke-width="0.25">Vβ3-Cβ</text>
<path d="M109.60,280.25 V283.35" stroke="#333" stroke-width="0.9"/>
<text x="110.00" y="289.65" font-family="Liberation Sans, sans-serif" font-size="6.1" fill="#1a1a1a" stroke="#1a1a1a" stroke-width="0.3" text-anchor="middle">10</text>
<polyline fill="none" stroke="#262626" stroke-width="1.12" stroke-linejoin="round" points="60.45,277.23 60.75,277.21 61.05,277.19 61.35,277.18 61.65,277.16 61.95,277.14 62.25,277.12 62.55,277.09 62.85,277.07 63.15,277.04 63.45,277.01 63.75,276.97 64.05,276.93 64.35,276.86 64.65,276.76 64.95,276.61 65.25,276.40 65.55,276.10 65.85,275.73 66.15,275.30 66.45,274.86 66.75,274.52 67.05,274.40 67.35,274.54 67.65,274.87 67.95,275.25 68.25,275.60 68.55,275.89 68.85,276.09 69.15,276.22 69.45,276.28 69.75,276.30 70.05,276.29 70.35,276.27 70.65,276.23 70.95,276.19 71.25,276.14 71.55,276.08 71.85,276.02 72.15,275.93 72.45,275.80 72.75,275.62 73.05,275.36 73.35,274.99 73.65,274.50 73.95,273.89 74.25,273.23 74.55,272.60 74.85,272.13 75.15,271.95 75.45,272.03 75.75,272.18 76.05,272.22 76.35,272.05 76.65,271.66 76.95,271.14 77.25,270.65 77.55,270.40 77.85,270.56 78.15,271.07 78.45,271.76 78.75,272.48 79.05,273.10 79.35,273.56 79.65,273.87 79.95,274.03 80.25,274.10 80.55,274.09 80.85,274.04 81.15,273.98 81.45,273.90 81.75,273.81 82.05,273.72 82.35,273.62 82.65,273.51 82.95,273.40 83.25,273.29 83.55,273.16 83.85,273.03 84.15,272.88 84.45,272.71 84.75,272.52 85.05,272.28 85.35,271.97 85.65,271.51 85.95,270.80 86.25,269.73 86.55,268.15 86.85,266.01 87.15,263.46 87.45,261.37 87.75,261.26 88.05,263.13 88.35,265.46 88.65,267.38 88.95,268.72 89.25,269.54 89.55,269.97 89.85,270.12 90.15,270.06 90.45,269.83 90.75,269.45 91.05,268.87 91.35,268.07 91.65,267.03 91.95,265.72 92.25,264.15 92.55,262.35 92.85,260.40 93.15,258.39 93.45,256.48 93.75,254.82 94.05,253.61 94.35,253.02 94.65,253.14 94.95,253.92 95.25,255.18 95.55,256.72 95.85,258.32 96.15,259.76 96.45,260.86 96.75,261.48 97.05,261.55 97.35,261.14 97.65,260.40 97.95,259.62 98.25,259.08 98.55,259.02 98.85,259.46 99.15,260.19 99.45,260.90 99.75,261.28 100.05,261.02 100.35,259.82 100.65,257.41 100.95,253.44 101.25,247.59 101.55,239.60 101.85,229.91 102.15,221.02 102.45,218.13 102.75,223.58 103.05,233.20 103.35,242.48 103.65,249.82 103.95,255.19 104.25,258.95 104.55,261.50 104.85,263.22 105.15,264.38 105.45,265.19 105.75,265.78 106.05,266.23 106.35,266.57 106.65,266.85 106.95,267.05 107.25,267.17 107.55,267.17 107.85,266.96 108.15,266.41 108.45,265.36 108.75,263.66 109.05,261.27 109.35,258.35 109.65,255.29 109.95,252.68 110.25,251.18 110.55,251.23 110.85,252.84 111.15,255.55 111.45,258.71 111.75,261.74 112.05,264.24 112.35,266.06 112.65,267.23 112.95,267.90 113.25,268.25 113.55,268.41 113.85,268.45 114.15,268.43 114.45,268.35 114.75,268.16 115.05,267.79 115.35,267.06 115.65,265.75 115.95,263.62 116.25,260.51 116.55,256.53 116.85,252.15 117.15,248.18 117.45,245.56 117.75,245.00 118.05,246.47 118.35,249.21 118.65,252.21 118.95,254.62 119.25,255.90 119.55,255.88 119.85,254.66 120.15,252.46 120.45,249.59 120.75,246.42 121.05,243.49 121.35,241.50 121.65,241.03 121.95,242.27 122.25,244.88 122.55,248.22 122.85,251.72 123.15,254.99 123.45,257.88 123.75,260.34 124.05,262.41 124.35,264.13 124.65,265.55 124.95,266.74 125.25,267.73 125.55,268.56 125.85,269.27 126.15,269.86 126.45,270.38 126.75,270.82 127.05,271.21 127.35,271.55 127.65,271.86 127.95,272.13 128.25,272.38 128.55,272.60 128.85,272.80 129.15,272.97 129.45,273.08 129.75,273.11 130.05,273.00 130.35,272.67 130.65,272.04 130.95,271.08 131.25,269.82 131.55,268.40 131.85,267.09 132.15,266.20 132.45,266.03 132.75,266.68 133.05,267.96 133.35,269.55 133.65,271.16 133.95,272.55 134.25,273.62 134.55,274.37 134.85,274.85 135.15,275.15 135.45,275.33 135.75,275.46 136.05,275.55 136.35,275.63 136.65,275.70 136.95,275.77 137.25,275.84 137.55,275.90 137.85,275.96 138.15,276.01 138.45,276.07 138.75,276.12 139.05,276.17 139.35,276.22 139.65,276.27 139.95,276.32 140.25,276.36 140.55,276.41 140.85,276.45 141.15,276.49 141.45,276.53 141.75,276.57 142.05,276.60 142.35,276.64 142.65,276.67 142.95,276.71 143.25,276.74 143.55,276.77 143.85,276.80 144.15,276.83 144.45,276.86 144.75,276.88 145.05,276.91 145.35,276.93 145.65,276.96 145.95,276.98 146.25,277.00 146.55,277.03 146.85,277.05 147.15,277.07 147.45,277.09 147.75,277.11 148.05,277.12 148.35,277.14 148.65,277.16 148.95,277.17 149.25,277.19 149.55,277.20 149.85,277.22 150.15,277.23 150.45,277.25 150.75,277.26 151.05,277.27 151.35,277.28 151.65,277.30 151.95,277.31 152.25,277.32 152.55,277.33 152.85,277.34 153.15,277.35 153.45,277.36 153.75,277.36 154.05,277.37 154.35,277.38 154.65,277.39 154.95,277.39 155.25,277.40 155.55,277.41 155.85,277.42 156.15,277.42 156.45,277.43 156.75,277.43 157.05,277.44 157.35,277.44 157.65,277.45 157.95,277.45 158.25,277.46 158.55,277.46 158.85,277.47 159.15,277.47 159.45,277.47"/>
<rect x="179.20" y="215.85" width="99.65" height="64.40" fill="none" stroke="#4a4a4a" stroke-width="1.2"/>
<text x="180.55" y="211.75" font-family="Liberation Sans, sans-serif" font-weight="normal" font-size="8.4" letter-spacing="0.6" fill="#111" stroke="#111" stroke-width="0.25">Vβ8-Cβ</text>
<path d="M229.00,280.25 V283.35" stroke="#333" stroke-width="0.9"/>
<text x="229.40" y="289.65" font-family="Liberation Sans, sans-serif" font-size="6.1" fill="#1a1a1a" stroke="#1a1a1a" stroke-width="0.3" text-anchor="middle">10</text>
<polyline fill="none" stroke="#262626" stroke-width="1.12" stroke-linejoin="round" points="180.05,273.32 180.35,272.67 180.65,272.16 180.95,271.87 181.25,271.53 181.55,271.78 181.85,272.58 182.15,272.42 182.45,271.81 182.75,272.32 183.05,273.27 183.35,273.72 183.65,273.30 183.95,272.45 184.25,272.23 184.55,272.85 184.85,273.34 185.15,273.03 185.45,272.52 185.75,271.97 186.05,271.56 186.35,272.21 186.65,272.69 186.95,272.17 187.25,272.12 187.55,272.36 187.85,272.39 188.15,272.53 188.45,272.43 188.75,272.04 189.05,271.68 189.35,272.02 189.65,272.03 189.95,271.45 190.25,271.14 190.55,270.51 190.85,270.75 191.15,271.26 191.45,271.00 191.75,271.32 192.05,271.72 192.35,270.85 192.65,270.09 192.95,270.87 193.25,271.32 193.55,270.68 193.85,270.10 194.15,269.23 194.45,268.11 194.75,268.02 195.05,268.26 195.35,267.38 195.65,265.93 195.95,264.89 196.25,265.07 196.55,266.11 196.85,266.99 197.15,267.63 197.45,268.40 197.75,269.10 198.05,269.29 198.35,269.75 198.65,269.83 198.95,269.32 199.25,269.33 199.55,268.61 199.85,267.52 200.15,267.34 200.45,267.48 200.75,267.44 201.05,266.77 201.35,264.76 201.65,261.39 201.95,258.18 202.25,256.08 202.55,254.50 202.85,252.95 203.15,252.12 203.45,253.46 203.75,255.88 204.05,257.64 204.35,259.94 204.65,262.75 204.95,264.50 205.25,265.73 205.55,267.10 205.85,267.33 206.15,266.83 206.45,266.91 206.75,266.99 207.05,266.91 207.35,266.55 207.65,265.66 207.95,265.38 208.25,264.86 208.55,262.89 208.85,260.47 209.15,256.72 209.45,251.78 209.75,246.58 210.05,239.58 210.35,231.19 210.65,223.25 210.95,218.66 211.25,220.22 211.55,227.22 211.85,236.45 212.15,244.55 212.45,250.94 212.75,255.52 213.05,258.63 213.35,261.84 213.65,263.99 213.95,264.23 214.25,265.06 214.55,267.03 214.85,267.79 215.15,267.63 215.45,267.47 215.75,267.15 216.05,267.09 216.35,267.05 216.65,266.16 216.95,264.02 217.25,260.98 217.55,256.67 217.85,250.21 218.15,242.38 218.45,234.24 218.75,226.95 219.05,221.58 219.35,219.00 219.65,220.66 219.95,226.20 220.25,233.78 220.55,241.59 220.85,248.56 221.15,253.92 221.45,258.39 221.75,262.75 222.05,265.31 222.35,265.80 222.65,265.91 222.95,265.94 223.25,266.00 223.55,265.91 223.85,265.03 224.15,263.87 224.45,262.23 224.75,260.88 225.05,260.33 225.35,259.19 225.65,258.95 225.95,260.46 226.25,261.72 226.55,262.57 226.85,263.70 227.15,265.18 227.45,267.17 227.75,268.88 228.05,269.95 228.35,270.83 228.65,271.31 228.95,271.42 229.25,271.30 229.55,271.45 229.85,271.66 230.15,271.58 230.45,271.44 230.75,271.23 231.05,271.61 231.35,272.00 231.65,271.51 231.95,271.00 232.25,270.16 232.55,268.75 232.85,267.38 233.15,265.73 233.45,264.08 233.75,262.93 234.05,262.41 234.35,263.38 234.65,265.26 234.95,266.32 235.25,267.48 235.55,268.31 235.85,268.57 236.15,270.12 236.45,271.52 236.75,271.72 237.05,271.69 237.35,272.17 237.65,273.14 237.95,273.52 238.25,273.04 238.55,272.42 238.85,271.88 239.15,270.98 239.45,270.10 239.75,269.35 240.05,267.72 240.35,265.99 240.65,265.06 240.95,264.04 241.25,263.07 241.55,262.45 241.85,262.38 242.15,263.33 242.45,264.48 242.75,265.90 243.05,268.22 243.35,270.01 243.65,270.69 243.95,271.29 244.25,272.03 244.55,272.28 244.85,272.20 245.15,272.46 245.45,272.48 245.75,272.35 246.05,272.49 246.35,272.49 246.65,272.88 246.95,273.85 247.25,274.05 247.55,272.99 247.85,272.66 248.15,273.12 248.45,272.94 248.75,272.97 249.05,273.18 249.35,273.00 249.65,272.47 249.95,272.25 250.25,272.66 250.55,272.37 250.85,271.86 251.15,271.76 251.45,272.02 251.75,272.46 252.05,271.46 252.35,269.81 252.65,268.83 252.95,267.60 253.25,266.01 253.55,264.53 253.85,263.27 254.15,262.09 254.45,261.05 254.75,261.01 255.05,262.45 255.35,264.18 255.65,265.80 255.95,268.02 256.25,269.34 256.55,269.57 256.85,270.34 257.15,271.37 257.45,272.51 257.75,273.52 258.05,273.42 258.35,273.05 258.65,273.43 258.95,274.19 259.25,274.68 259.55,274.26 259.85,273.85 260.15,274.05 260.45,273.89 260.75,273.52 261.05,273.55 261.35,273.59 261.65,273.44 261.95,273.72 262.25,274.39 262.55,275.04 262.85,275.13 263.15,274.44 263.45,274.10 263.75,274.80 264.05,275.46 264.35,275.50 264.65,274.82 264.95,273.64 265.25,274.36 265.55,275.73 265.85,275.52 266.15,275.16 266.45,274.54 266.75,274.33 267.05,275.08 267.35,275.41 267.65,275.84 267.95,276.15 268.25,275.39 268.55,275.33 268.85,276.20 269.15,276.13 269.45,275.52 269.75,275.59 270.05,275.37 270.35,275.11 270.65,275.53 270.95,275.49 271.25,275.21 271.55,275.47 271.85,275.35 272.15,274.85 272.45,275.04 272.75,274.97 273.05,274.62 273.35,274.94 273.65,275.39 273.95,275.32 274.25,275.17 274.55,275.45 274.85,275.27 275.15,274.94 275.45,275.42 275.75,275.61 276.05,275.65 276.35,276.63 276.65,276.40 276.95,275.03 277.25,274.90 277.55,274.89 277.85,275.09 278.15,275.92 278.45,276.01"/>
<rect x="298.35" y="215.85" width="100.50" height="64.40" fill="none" stroke="#4a4a4a" stroke-width="1.2"/>
<text x="299.70" y="211.75" font-family="Liberation Sans, sans-serif" font-weight="normal" font-size="8.4" letter-spacing="0.6" fill="#111" stroke="#111" stroke-width="0.25">Vβ14-Cβ</text>
<path d="M348.60,280.25 V283.35" stroke="#333" stroke-width="0.9"/>
<text x="349.00" y="289.65" font-family="Liberation Sans, sans-serif" font-size="6.1" fill="#1a1a1a" stroke="#1a1a1a" stroke-width="0.3" text-anchor="middle">10</text>
<polyline fill="none" stroke="#262626" stroke-width="1.12" stroke-linejoin="round" points="299.20,277.58 299.50,277.57 299.80,277.47 300.10,277.41 300.40,277.41 300.70,277.44 301.00,277.53 301.30,277.55 301.60,277.46 301.90,277.46 302.20,277.46 302.50,277.53 302.80,277.61 303.10,277.49 303.40,277.41 303.70,277.45 304.00,277.50 304.30,277.50 304.60,277.52 304.90,277.59 305.20,277.55 305.50,277.48 305.80,277.62 306.10,277.58 306.40,277.31 306.70,277.29 307.00,277.43 307.30,277.45 307.60,277.49 307.90,277.60 308.20,277.48 308.50,277.39 308.80,277.52 309.10,277.56 309.40,277.51 309.70,277.50 310.00,277.45 310.30,277.40 310.60,277.35 310.90,277.29 311.20,277.28 311.50,277.28 311.80,277.32 312.10,277.36 312.40,277.36 312.70,277.33 313.00,277.29 313.30,277.27 313.60,277.35 313.90,277.44 314.20,277.41 314.50,277.26 314.80,277.11 315.10,277.09 315.40,276.98 315.70,276.73 316.00,276.58 316.30,276.52 316.60,276.49 316.90,276.51 317.20,276.50 317.50,276.39 317.80,276.40 318.10,276.52 318.40,276.63 318.70,276.79 319.00,276.94 319.30,277.02 319.60,277.04 319.90,277.01 320.20,276.95 320.50,276.96 320.80,277.14 321.10,277.24 321.40,277.13 321.70,277.06 322.00,277.08 322.30,277.05 322.60,277.11 322.90,277.18 323.20,277.06 323.50,276.94 323.80,276.96 324.10,276.88 324.40,276.78 324.70,276.84 325.00,276.85 325.30,276.79 325.60,276.75 325.90,276.58 326.20,276.43 326.50,276.39 326.80,276.35 327.10,276.27 327.40,276.12 327.70,275.93 328.00,275.73 328.30,275.48 328.60,275.06 328.90,274.30 329.20,273.27 329.50,271.99 329.80,270.10 330.10,267.72 330.40,265.26 330.70,263.03 331.00,262.00 331.30,262.86 331.60,264.87 331.90,267.03 332.20,268.96 332.50,270.54 332.80,271.57 333.10,272.07 333.40,272.30 333.70,272.28 334.00,271.97 334.30,271.46 334.60,270.73 334.90,269.74 335.20,268.37 335.50,266.49 335.80,264.11 336.10,261.12 336.40,257.33 336.70,252.45 337.00,246.32 337.30,239.23 337.60,231.57 337.90,224.37 338.20,219.45 338.50,218.60 338.80,222.22 339.10,228.79 339.40,236.39 339.70,243.68 340.00,249.78 340.30,254.73 340.60,258.75 340.90,261.77 341.20,263.85 341.50,265.09 341.80,265.77 342.10,265.99 342.40,265.76 342.70,265.18 343.00,264.35 343.30,263.34 343.60,262.32 343.90,261.32 344.20,260.33 344.50,259.53 344.80,259.08 345.10,259.06 345.40,259.46 345.70,260.36 346.00,261.67 346.30,262.99 346.60,264.40 346.90,266.01 347.20,267.64 347.50,269.17 347.80,270.56 348.10,271.78 348.40,272.77 348.70,273.53 349.00,274.19 349.30,274.82 349.60,275.28 349.90,275.64 350.20,276.03 350.50,276.30 350.80,276.56 351.10,276.83 351.40,276.97 351.70,276.94 352.00,276.87 352.30,276.96 352.60,277.12 352.90,277.16 353.20,277.10 353.50,277.20 353.80,277.21 354.10,276.99 354.40,276.84 354.70,276.89 355.00,277.10 355.30,277.26 355.60,277.14 355.90,277.08 356.20,277.14 356.50,277.02 356.80,277.05 357.10,277.24 357.40,277.24 357.70,277.18 358.00,277.23 358.30,277.25 358.60,277.28 358.90,277.35 359.20,277.37 359.50,277.29 359.80,277.13 360.10,277.10 360.40,277.13 360.70,277.11 361.00,277.12 361.30,277.16 361.60,277.23 361.90,277.23 362.20,277.12 362.50,276.92 362.80,276.71 363.10,276.66 363.40,276.61 363.70,276.36 364.00,275.98 364.30,275.39 364.60,274.45 364.90,273.17 365.20,271.58 365.50,269.55 365.80,266.99 366.10,264.15 366.40,261.53 366.70,259.64 367.00,258.92 367.30,259.65 367.60,261.70 367.90,264.38 368.20,267.11 368.50,269.58 368.80,271.68 369.10,273.43 369.40,274.71 369.70,275.52 370.00,276.00 370.30,276.34 370.60,276.63 370.90,276.76 371.20,276.74 371.50,276.78 371.80,276.97 372.10,277.13 372.40,277.24 372.70,277.27 373.00,277.17 373.30,277.16 373.60,277.29 373.90,277.39 374.20,277.45 374.50,277.43 374.80,277.38 375.10,277.38 375.40,277.41 375.70,277.39 376.00,277.37 376.30,277.37 376.60,277.35 376.90,277.35 377.20,277.44 377.50,277.52 377.80,277.52 378.10,277.49 378.40,277.38 378.70,277.31 379.00,277.31 379.30,277.20 379.60,277.12 379.90,277.03 380.20,276.79 380.50,276.56 380.80,276.33 381.10,275.89 381.40,275.08 381.70,274.01 382.00,273.05 382.30,272.38 382.60,271.96 382.90,272.24 383.20,273.21 383.50,274.19 383.80,275.07 384.10,275.86 384.40,276.44 384.70,276.85 385.00,277.13 385.30,277.35 385.60,277.45 385.90,277.36 386.20,277.29 386.50,277.41 386.80,277.51 387.10,277.41 387.40,277.39 387.70,277.42 388.00,277.43 388.30,277.47 388.60,277.50 388.90,277.55 389.20,277.59 389.50,277.50 389.80,277.39 390.10,277.41 390.40,277.40 390.70,277.37 391.00,277.50 391.30,277.53 391.60,277.44 391.90,277.54 392.20,277.67 392.50,277.63 392.80,277.51 393.10,277.47 393.40,277.54 393.70,277.58 394.00,277.60 394.30,277.61 394.60,277.55 394.90,277.51 395.20,277.49 395.50,277.49 395.80,277.60 396.10,277.65 396.40,277.54 396.70,277.48 397.00,277.50 397.30,277.51 397.60,277.57 397.90,277.60 398.20,277.44 398.50,277.34"/>
<rect x="418.25" y="215.85" width="99.50" height="64.40" fill="none" stroke="#4a4a4a" stroke-width="1.2"/>
<text x="419.60" y="211.75" font-family="Liberation Sans, sans-serif" font-weight="normal" font-size="8.4" letter-spacing="0.6" fill="#111" stroke="#111" stroke-width="0.25">Vβ21-Cβ</text>
<path d="M467.60,280.25 V283.35" stroke="#333" stroke-width="0.9"/>
<text x="468.00" y="289.65" font-family="Liberation Sans, sans-serif" font-size="6.1" fill="#1a1a1a" stroke="#1a1a1a" stroke-width="0.3" text-anchor="middle">10</text>
<polyline fill="none" stroke="#262626" stroke-width="1.12" stroke-linejoin="round" points="419.10,276.41 419.40,276.43 419.70,276.45 420.00,276.47 420.30,276.48 420.60,276.50 420.90,276.52 421.20,276.54 421.50,276.56 421.80,276.58 422.10,276.60 422.40,276.62 422.70,276.63 423.00,276.65 423.30,276.67 423.60,276.69 423.90,276.71 424.20,276.73 424.50,276.74 424.80,276.76 425.10,276.78 425.40,276.80 425.70,276.82 426.00,276.83 426.30,276.85 426.60,276.87 426.90,276.89 427.20,276.90 427.50,276.92 427.80,276.94 428.10,276.96 428.40,276.97 428.70,276.99 429.00,277.01 429.30,277.02 429.60,277.04 429.90,277.06 430.20,277.07 430.50,277.09 430.80,277.10 431.10,277.12 431.40,277.13 431.70,277.15 432.00,277.16 432.30,277.18 432.60,277.19 432.90,277.21 433.20,277.22 433.50,277.23 433.80,277.24 434.10,277.25 434.40,277.26 434.70,277.27 435.00,277.28 435.30,277.29 435.60,277.30 435.90,277.30 436.20,277.29 436.50,277.27 436.80,277.25 437.10,277.23 437.40,277.20 437.70,277.17 438.00,277.13 438.30,277.09 438.60,277.04 438.90,276.98 439.20,276.91 439.50,276.82 439.80,276.70 440.10,276.54 440.40,276.32 440.70,276.01 441.00,275.57 441.30,274.94 441.60,274.06 441.90,272.88 442.20,271.37 442.50,269.68 442.80,268.32 443.10,268.07 443.40,269.11 443.70,270.73 444.00,272.29 444.30,273.54 444.60,274.48 444.90,275.14 445.20,275.60 445.50,275.89 445.80,276.08 446.10,276.18 446.40,276.21 446.70,276.17 447.00,276.04 447.30,275.77 447.60,275.30 447.90,274.55 448.20,273.43 448.50,271.87 448.80,269.87 449.10,267.48 449.40,264.87 449.70,262.31 450.00,260.22 450.30,259.09 450.60,259.27 450.90,260.69 451.20,262.90 451.50,265.42 451.80,267.89 452.10,270.07 452.40,271.83 452.70,273.13 453.00,274.01 453.30,274.54 453.60,274.81 453.90,274.87 454.20,274.78 454.50,274.53 454.80,274.09 455.10,273.39 455.40,272.32 455.70,270.71 456.00,268.40 456.30,265.23 456.60,261.11 456.90,256.04 457.20,250.17 457.50,243.84 457.80,237.59 458.10,232.24 458.40,228.78 458.70,228.12 459.00,230.41 459.30,234.94 459.60,240.67 459.90,246.71 460.20,252.42 460.50,257.40 460.80,261.41 461.10,264.38 461.40,266.33 461.70,267.35 462.00,267.53 462.30,266.92 462.60,265.54 462.90,263.33 463.20,260.23 463.50,256.19 463.80,251.18 464.10,245.27 464.40,238.63 464.70,231.66 465.00,225.13 465.30,220.25 465.60,218.40 465.90,220.23 466.20,225.10 466.50,231.63 466.80,238.59 467.10,245.23 467.40,251.16 467.70,256.20 468.00,260.30 468.30,263.51 468.60,265.93 468.90,267.69 469.20,268.92 469.50,269.72 469.80,270.17 470.10,270.32 470.40,270.18 470.70,269.70 471.00,268.86 471.30,267.60 471.60,265.90 471.90,263.78 472.20,261.30 472.50,258.65 472.80,256.12 473.10,254.24 473.40,253.60 473.70,254.50 474.00,256.66 474.30,259.46 474.60,262.39 474.90,265.15 475.20,267.57 475.50,269.58 475.80,271.18 476.10,272.39 476.40,273.28 476.70,273.92 477.00,274.37 477.30,274.70 477.60,274.94 477.90,275.11 478.20,275.22 478.50,275.25 478.80,275.17 479.10,274.91 479.40,274.37 479.70,273.48 480.00,272.15 480.30,270.40 480.60,268.36 480.90,266.28 481.20,264.55 481.50,263.65 481.80,263.91 482.10,265.27 482.40,267.29 482.70,269.52 483.00,271.62 483.30,273.37 483.60,274.68 483.90,275.59 484.20,276.17 484.50,276.52 484.80,276.72 485.10,276.84 485.40,276.92 485.70,276.96 486.00,276.98 486.30,276.98 486.60,276.94 486.90,276.88 487.20,276.78 487.50,276.66 487.80,276.53 488.10,276.43 488.40,276.40 488.70,276.47 489.00,276.61 489.30,276.77 489.60,276.93 489.90,277.07 490.20,277.17 490.50,277.25 490.80,277.30 491.10,277.34 491.40,277.36 491.70,277.38 492.00,277.39 492.30,277.40 492.60,277.41 492.90,277.42 493.20,277.42 493.50,277.43 493.80,277.44 494.10,277.44 494.40,277.45 494.70,277.45 495.00,277.46 495.30,277.46 495.60,277.46 495.90,277.47 496.20,277.47 496.50,277.48 496.80,277.48 497.10,277.48 497.40,277.48 497.70,277.49 498.00,277.49 498.30,277.49 498.60,277.49 498.90,277.50 499.20,277.50 499.50,277.50 499.80,277.50 500.10,277.51 500.40,277.51 500.70,277.51 501.00,277.51 501.30,277.51 501.60,277.51 501.90,277.52 502.20,277.52 502.50,277.52 502.80,277.52 503.10,277.52 503.40,277.52 503.70,277.52 504.00,277.53 504.30,277.53 504.60,277.53 504.90,277.53 505.20,277.53 505.50,277.53 505.80,277.53 506.10,277.53 506.40,277.53 506.70,277.54 507.00,277.54 507.30,277.54 507.60,277.54 507.90,277.54 508.20,277.54 508.50,277.54 508.80,277.54 509.10,277.54 509.40,277.54 509.70,277.54 510.00,277.55 510.30,277.55 510.60,277.55 510.90,277.55 511.20,277.55 511.50,277.55 511.80,277.55 512.10,277.55 512.40,277.55 512.70,277.55 513.00,277.55 513.30,277.55 513.60,277.55 513.90,277.55 514.20,277.55 514.50,277.56 514.80,277.56 515.10,277.56 515.40,277.56 515.70,277.56 516.00,277.56 516.30,277.56 516.60,277.56 516.90,277.56 517.20,277.56"/>
<rect x="59.48" y="317.85" width="100.15" height="64.45" fill="none" stroke="#4a4a4a" stroke-width="1.2"/>
<text x="60.95" y="313.75" font-family="Liberation Sans, sans-serif" font-weight="normal" font-size="8.4" letter-spacing="0.6" fill="#111" stroke="#111" stroke-width="0.25">Vβ4-Cβ</text>
<path d="M109.60,382.30 V385.40" stroke="#333" stroke-width="0.9"/>
<text x="110.00" y="391.70" font-family="Liberation Sans, sans-serif" font-size="6.1" fill="#1a1a1a" stroke="#1a1a1a" stroke-width="0.3" text-anchor="middle">10</text>
<polyline fill="none" stroke="#262626" stroke-width="1.12" stroke-linejoin="round" points="60.45,378.24 60.75,378.25 61.05,378.26 61.35,378.27 61.65,378.28 61.95,378.29 62.25,378.30 62.55,378.30 62.85,378.31 63.15,378.31 63.45,378.30 63.75,378.28 64.05,378.24 64.35,378.20 64.65,378.14 64.95,378.08 65.25,378.02 65.55,378.00 65.85,378.02 66.15,378.08 66.45,378.16 66.75,378.23 67.05,378.29 67.35,378.34 67.65,378.38 67.95,378.40 68.25,378.41 68.55,378.41 68.85,378.41 69.15,378.40 69.45,378.38 69.75,378.35 70.05,378.28 70.35,378.13 70.65,377.88 70.95,377.47 71.25,376.84 71.55,375.95 71.85,374.81 72.15,373.52 72.45,372.25 72.75,371.30 73.05,371.01 73.35,371.49 73.65,372.53 73.95,373.77 74.25,374.96 74.55,375.96 74.85,376.69 75.15,377.16 75.45,377.43 75.75,377.54 76.05,377.55 76.35,377.49 76.65,377.37 76.95,377.19 77.25,376.91 77.55,376.51 77.85,375.92 78.15,375.07 78.45,373.88 78.75,372.30 79.05,370.27 79.35,367.80 79.65,364.99 79.95,362.09 80.25,359.64 80.55,358.43 80.85,359.01 81.15,361.08 81.45,363.85 81.75,366.66 82.05,369.19 82.35,371.30 82.65,372.95 82.95,374.18 83.25,375.04 83.55,375.61 83.85,375.95 84.15,376.12 84.45,376.16 84.75,376.09 85.05,375.90 85.35,375.57 85.65,375.06 85.95,374.32 86.25,373.26 86.55,371.83 86.85,369.97 87.15,367.63 87.45,364.87 87.75,361.91 88.05,359.32 88.35,358.03 88.65,358.69 88.95,360.95 89.25,363.87 89.55,366.73 89.85,369.21 90.15,371.23 90.45,372.80 90.75,373.97 91.05,374.80 91.35,375.35 91.65,375.66 91.95,375.71 92.25,375.47 92.55,374.80 92.85,373.54 93.15,371.50 93.45,368.49 93.75,364.49 94.05,359.63 94.35,354.32 94.65,349.21 94.95,345.09 95.25,342.74 95.55,342.66 95.85,344.85 96.15,348.80 96.45,353.73 96.75,358.85 97.05,363.52 97.35,367.31 97.65,370.07 97.95,371.85 98.25,372.81 98.55,373.14 98.85,372.99 99.15,372.48 99.45,371.63 99.75,370.44 100.05,368.82 100.35,366.64 100.65,363.73 100.95,359.89 101.25,354.89 101.55,348.52 101.85,340.74 102.15,332.11 102.45,324.39 102.75,320.50 103.05,322.42 103.35,329.09 103.65,337.56 103.95,345.60 104.25,352.32 104.55,357.61 104.85,361.65 105.15,364.66 105.45,366.85 105.75,368.42 106.05,369.50 106.35,370.19 106.65,370.55 106.95,370.61 107.25,370.34 107.55,369.69 107.85,368.54 108.15,366.74 108.45,364.12 108.75,360.48 109.05,355.66 109.35,349.56 109.65,342.28 109.95,334.40 110.25,327.48 110.55,324.07 110.85,325.93 111.15,332.10 111.45,340.03 111.75,347.74 112.05,354.40 112.35,359.79 112.65,363.96 112.95,367.08 113.25,369.31 113.55,370.86 113.85,371.87 114.15,372.48 114.45,372.74 114.75,372.69 115.05,372.32 115.35,371.59 115.65,370.45 115.95,368.86 116.25,366.80 116.55,364.29 116.85,361.48 117.15,358.85 117.45,357.19 117.75,357.30 118.05,359.17 118.35,362.03 118.65,365.06 118.95,367.82 119.25,370.15 119.55,372.03 119.85,373.49 120.15,374.60 120.45,375.42 120.75,376.02 121.05,376.46 121.35,376.79 121.65,377.04 121.95,377.24 122.25,377.40 122.55,377.53 122.85,377.65 123.15,377.75 123.45,377.84 123.75,377.91 124.05,377.98 124.35,378.05 124.65,378.11 124.95,378.16 125.25,378.20 125.55,378.25 125.85,378.29 126.15,378.33 126.45,378.36 126.75,378.39 127.05,378.42 127.35,378.45 127.65,378.48 127.95,378.50 128.25,378.53 128.55,378.55 128.85,378.57 129.15,378.59 129.45,378.61 129.75,378.63 130.05,378.65 130.35,378.66 130.65,378.68 130.95,378.70 131.25,378.71 131.55,378.72 131.85,378.74 132.15,378.75 132.45,378.77 132.75,378.78 133.05,378.79 133.35,378.80 133.65,378.81 133.95,378.83 134.25,378.84 134.55,378.85 134.85,378.86 135.15,378.87 135.45,378.88 135.75,378.89 136.05,378.90 136.35,378.91 136.65,378.91 136.95,378.92 137.25,378.93 137.55,378.94 137.85,378.95 138.15,378.96 138.45,378.96 138.75,378.97 139.05,378.98 139.35,378.99 139.65,379.00 139.95,379.00 140.25,379.01 140.55,379.02 140.85,379.02 141.15,379.03 141.45,379.04 141.75,379.04 142.05,379.05 142.35,379.06 142.65,379.06 142.95,379.07 143.25,379.08 143.55,379.08 143.85,379.09 144.15,379.09 144.45,379.10 144.75,379.11 145.05,379.11 145.35,379.12 145.65,379.12 145.95,379.13 146.25,379.13 146.55,379.14 146.85,379.14 147.15,379.15 147.45,379.16 147.75,379.16 148.05,379.17 148.35,379.17 148.65,379.18 148.95,379.18 149.25,379.19 149.55,379.19 149.85,379.19 150.15,379.20 150.45,379.20 150.75,379.21 151.05,379.21 151.35,379.22 151.65,379.22 151.95,379.23 152.25,379.23 152.55,379.24 152.85,379.24 153.15,379.24 153.45,379.25 153.75,379.25 154.05,379.26 154.35,379.26 154.65,379.26 154.95,379.27 155.25,379.27 155.55,379.28 155.85,379.28 156.15,379.28 156.45,379.29 156.75,379.29 157.05,379.30 157.35,379.30 157.65,379.30 157.95,379.31 158.25,379.31 158.55,379.31 158.85,379.32 159.15,379.32 159.45,379.32"/>
<rect x="179.08" y="317.85" width="99.65" height="64.45" fill="none" stroke="#4a4a4a" stroke-width="1.2"/>
<text x="180.55" y="313.75" font-family="Liberation Sans, sans-serif" font-weight="normal" font-size="8.4" letter-spacing="0.6" fill="#111" stroke="#111" stroke-width="0.25">Vβ9-Cβ</text>
<path d="M229.00,382.30 V385.40" stroke="#333" stroke-width="0.9"/>
<text x="229.40" y="391.70" font-family="Liberation Sans, sans-serif" font-size="6.1" fill="#1a1a1a" stroke="#1a1a1a" stroke-width="0.3" text-anchor="middle">10</text>
<polyline fill="none" stroke="#262626" stroke-width="1.12" stroke-linejoin="round" points="180.05,375.81 180.35,374.81 180.65,374.20 180.95,374.71 181.25,374.81 181.55,374.70 181.85,375.75 182.15,376.62 182.45,376.45 182.75,376.31 183.05,376.00 183.35,375.05 183.65,374.49 183.95,374.66 184.25,375.63 184.55,375.73 184.85,374.69 185.15,374.60 185.45,374.31 185.75,374.33 186.05,374.46 186.35,374.00 186.65,374.90 186.95,375.75 187.25,375.70 187.55,375.49 187.85,374.56 188.15,374.53 188.45,374.85 188.75,373.70 189.05,373.48 189.35,374.55 189.65,375.27 189.95,375.06 190.25,374.11 190.55,374.38 190.85,375.17 191.15,375.05 191.45,374.48 191.75,373.90 192.05,373.60 192.35,373.08 192.65,373.04 192.95,372.77 193.25,371.27 193.55,370.15 193.85,368.90 194.15,365.77 194.45,362.16 194.75,359.68 195.05,356.01 195.35,350.48 195.65,345.51 195.95,340.83 196.25,336.31 196.55,332.96 196.85,329.43 197.15,325.68 197.45,322.66 197.75,321.02 198.05,321.86 198.35,322.73 198.65,323.35 198.95,327.33 199.25,333.05 199.55,337.83 199.85,342.91 200.15,349.23 200.45,354.94 200.75,358.61 201.05,362.20 201.35,365.71 201.65,367.76 201.95,369.24 202.25,370.39 202.55,370.95 202.85,371.95 203.15,373.46 203.45,374.14 203.75,373.83 204.05,372.62 204.35,371.76 204.65,371.63 204.95,371.17 205.25,370.76 205.55,370.73 205.85,370.90 206.15,370.81 206.45,370.41 206.75,369.75 207.05,368.56 207.35,366.51 207.65,364.60 207.95,363.77 208.25,363.38 208.55,364.86 208.85,368.33 209.15,370.07 209.45,370.55 209.75,371.49 210.05,371.46 210.35,370.78 210.65,371.16 210.95,372.06 211.25,372.17 211.55,371.92 211.85,371.86 212.15,371.93 212.45,372.10 212.75,372.85 213.05,373.43 213.35,373.12 213.65,373.14 213.95,373.94 214.25,373.80 214.55,372.39 214.85,372.01 215.15,372.77 215.45,372.30 215.75,371.78 216.05,373.09 216.35,374.66 216.65,375.38 216.95,375.11 217.25,374.13 217.55,373.66 217.85,374.85 218.15,376.04 218.45,375.06 218.75,373.79 219.05,374.18 219.35,375.10 219.65,374.77 219.95,373.26 220.25,371.93 220.55,371.82 220.85,372.17 221.15,372.80 221.45,374.18 221.75,374.63 222.05,374.16 222.35,375.20 222.65,376.85 222.95,377.05 223.25,376.62 223.55,376.28 223.85,376.28 224.15,376.84 224.45,377.59 224.75,377.29 225.05,376.68 225.35,377.56 225.65,377.30 225.95,375.84 226.25,376.41 226.55,377.97 226.85,378.75 227.15,377.02 227.45,375.46 227.75,377.34 228.05,378.43 228.35,378.09 228.65,378.44 228.95,378.20 229.25,377.53 229.55,376.71 229.85,376.03 230.15,376.36 230.45,376.32 230.75,376.09 231.05,377.44 231.35,378.00 231.65,376.30 231.95,374.94 232.25,375.10 232.55,375.54 232.85,375.39 233.15,375.46 233.45,376.18 233.75,376.33 234.05,375.92 234.35,376.45 234.65,376.27 234.95,374.24 235.25,373.40 235.55,374.14 235.85,375.16 236.15,376.06 236.45,375.80 236.75,375.02 237.05,374.14 237.35,372.34 237.65,370.55 237.95,370.15 238.25,370.28 238.55,371.03 238.85,372.67 239.15,373.28 239.45,373.91 239.75,375.45 240.05,376.96 240.35,377.76 240.65,376.76 240.95,376.10 241.25,376.54 241.55,376.74 241.85,376.88 242.15,376.75 242.45,376.62 242.75,375.58 243.05,373.76 243.35,374.22 243.65,376.34 243.95,376.79 244.25,376.22 244.55,376.38 244.85,376.54 245.15,376.65 245.45,375.80 245.75,374.49 246.05,374.97 246.35,376.12 246.65,376.85 246.95,377.44 247.25,377.76 247.55,376.97 247.85,376.41 248.15,377.70 248.45,378.19 248.75,378.04 249.05,378.07 249.35,376.94 249.65,375.54 249.95,375.62 250.25,376.70 250.55,377.00 250.85,376.84 251.15,376.24 251.45,376.12 251.75,375.78 252.05,373.94 252.35,371.20 252.65,367.86 252.95,364.58 253.25,359.62 253.55,355.40 253.85,356.47 254.15,361.19 254.45,366.44 254.75,370.79 255.05,373.95 255.35,375.65 255.65,377.02 255.95,377.65 256.25,376.93 256.55,376.58 256.85,376.42 257.15,376.30 257.45,375.64 257.75,373.82 258.05,373.90 258.35,376.04 258.65,376.90 258.95,377.08 259.25,377.08 259.55,376.37 259.85,376.07 260.15,375.75 260.45,375.13 260.75,375.76 261.05,377.58 261.35,378.07 261.65,376.84 261.95,376.48 262.25,377.05 262.55,376.47 262.85,375.68 263.15,375.95 263.45,376.34 263.75,376.69 264.05,376.72 264.35,376.53 264.65,376.87 264.95,376.52 265.25,375.88 265.55,375.97 265.85,376.11 266.15,375.72 266.45,375.12 266.75,374.56 267.05,373.87 267.35,372.90 267.65,370.48 267.95,368.41 268.25,366.74 268.55,363.83 268.85,362.37 269.15,363.34 269.45,365.83 269.75,368.16 270.05,369.06 270.35,370.63 270.65,372.61 270.95,373.18 271.25,373.37 271.55,374.07 271.85,375.24 272.15,376.32 272.45,376.44 272.75,375.73 273.05,375.61 273.35,375.67 273.65,374.27 273.95,372.89 274.25,373.44 274.55,374.01 274.85,373.33 275.15,372.09 275.45,368.97 275.75,364.84 276.05,361.85 276.35,360.84 276.65,362.09 276.95,364.52 277.25,368.44 277.55,371.57 277.85,372.63 278.15,373.94 278.45,374.80"/>
<rect x="298.23" y="317.85" width="100.50" height="64.45" fill="none" stroke="#4a4a4a" stroke-width="1.2"/>
<text x="299.70" y="313.75" font-family="Liberation Sans, sans-serif" font-weight="normal" font-size="8.4" letter-spacing="0.6" fill="#111" stroke="#111" stroke-width="0.25">Vβ15-Cβ</text>
<path d="M348.00,382.30 V385.40" stroke="#333" stroke-width="0.9"/>
<text x="348.40" y="391.70" font-family="Liberation Sans, sans-serif" font-size="6.1" fill="#1a1a1a" stroke="#1a1a1a" stroke-width="0.3" text-anchor="middle">10</text>
<polyline fill="none" stroke="#262626" stroke-width="1.12" stroke-linejoin="round" points="299.20,379.75 299.50,379.68 299.80,379.62 300.10,379.51 300.40,379.46 300.70,379.48 301.00,379.47 301.30,379.35 301.60,379.22 301.90,379.15 302.20,379.05 302.50,378.90 302.80,378.83 303.10,378.81 303.40,378.77 303.70,378.67 304.00,378.55 304.30,378.49 304.60,378.47 304.90,378.46 305.20,378.37 305.50,378.21 305.80,378.12 306.10,378.04 306.40,377.96 306.70,377.86 307.00,377.76 307.30,377.75 307.60,377.64 307.90,377.46 308.20,377.38 308.50,377.38 308.80,377.39 309.10,377.27 309.40,377.07 309.70,377.01 310.00,377.06 310.30,377.06 310.60,376.94 310.90,376.84 311.20,376.82 311.50,376.70 311.80,376.49 312.10,376.39 312.40,376.33 312.70,376.08 313.00,375.87 313.30,375.81 313.60,375.50 313.90,374.88 314.20,374.03 314.50,372.93 314.80,371.55 315.10,370.10 315.40,369.56 315.70,370.98 316.00,372.50 316.30,372.91 316.60,373.64 316.90,375.04 317.20,376.03 317.50,374.85 317.80,373.12 318.10,373.83 318.40,376.51 318.70,377.60 319.00,376.23 319.30,375.67 319.60,375.63 319.90,374.05 320.20,371.40 320.50,367.73 320.80,363.73 321.10,361.57 321.40,360.62 321.70,360.70 322.00,363.48 322.30,367.34 322.60,370.17 322.90,371.86 323.20,372.92 323.50,374.10 323.80,375.14 324.10,375.05 324.40,374.33 324.70,374.66 325.00,374.42 325.30,373.07 325.60,373.43 325.90,373.90 326.20,373.80 326.50,374.57 326.80,375.44 327.10,375.15 327.40,374.79 327.70,374.97 328.00,374.34 328.30,374.40 328.60,374.73 328.90,374.95 329.20,375.83 329.50,375.87 329.80,374.71 330.10,372.89 330.40,372.64 330.70,373.49 331.00,372.41 331.30,371.03 331.60,369.02 331.90,364.51 332.20,357.86 332.50,348.56 332.80,337.92 333.10,328.20 333.40,321.32 333.70,319.85 334.00,323.09 334.30,327.34 334.60,330.02 334.90,328.31 335.20,324.19 335.50,326.97 335.80,338.38 336.10,350.99 336.40,362.08 336.70,369.15 337.00,370.76 337.30,370.47 337.60,369.81 337.90,369.16 338.20,367.69 338.50,364.66 338.80,360.11 339.10,352.56 339.40,343.93 339.70,337.55 340.00,331.91 340.30,326.59 340.60,324.31 340.90,325.95 341.20,329.73 341.50,335.35 341.80,343.15 342.10,350.01 342.40,354.41 342.70,358.16 343.00,361.97 343.30,364.07 343.60,364.36 343.90,364.84 344.20,365.23 344.50,364.65 344.80,364.45 345.10,364.73 345.40,364.01 345.70,362.93 346.00,361.18 346.30,360.68 346.60,363.46 346.90,366.53 347.20,367.79 347.50,367.71 347.80,368.42 348.10,370.44 348.40,371.22 348.70,370.85 349.00,371.26 349.30,370.79 349.60,370.12 349.90,370.06 350.20,367.93 350.50,365.30 350.80,364.60 351.10,364.39 351.40,363.57 351.70,363.23 352.00,363.31 352.30,363.35 352.60,364.30 352.90,365.25 353.20,364.86 353.50,362.72 353.80,359.30 354.10,356.85 354.40,353.69 354.70,348.16 355.00,344.99 355.30,345.19 355.60,346.10 355.90,347.47 356.20,349.33 356.50,352.67 356.80,356.91 357.10,360.54 357.40,363.88 357.70,366.70 358.00,368.54 358.30,370.11 358.60,371.58 358.90,372.81 359.20,374.12 359.50,374.97 359.80,374.30 360.10,372.83 360.40,372.31 360.70,373.05 361.00,373.24 361.30,371.44 361.60,368.41 361.90,365.54 362.20,364.06 362.50,363.04 362.80,362.27 363.10,364.42 363.40,368.19 363.70,369.89 364.00,371.35 364.30,373.86 364.60,374.59 364.90,373.26 365.20,373.34 365.50,374.40 365.80,373.93 366.10,373.96 366.40,374.86 366.70,374.75 367.00,374.55 367.30,375.02 367.60,375.03 367.90,374.12 368.20,372.50 368.50,371.82 368.80,372.40 369.10,373.56 369.40,374.62 369.70,374.27 370.00,374.31 370.30,375.51 370.60,375.45 370.90,373.55 371.20,371.41 371.50,370.56 371.80,370.53 372.10,369.82 372.40,369.32 372.70,368.84 373.00,367.91 373.30,368.29 373.60,368.38 373.90,367.32 374.20,367.59 374.50,368.85 374.80,369.32 375.10,369.71 375.40,371.21 375.70,372.21 376.00,372.07 376.30,372.43 376.60,373.24 376.90,373.76 377.20,374.40 377.50,374.71 377.80,375.20 378.10,375.70 378.40,375.38 378.70,375.95 379.00,377.08 379.30,377.44 379.60,377.81 379.90,377.87 380.20,377.52 380.50,377.54 380.80,378.03 381.10,378.48 381.40,378.55 381.70,378.63 382.00,378.78 382.30,378.66 382.60,378.57 382.90,378.75 383.20,378.85 383.50,378.98 383.80,379.21 384.10,379.13 384.40,379.07 384.70,379.18 385.00,379.14 385.30,379.14 385.60,379.16 385.90,379.31 386.20,379.55 386.50,379.41 386.80,379.19 387.10,379.22 387.40,379.29 387.70,379.28 388.00,379.42 388.30,379.65 388.60,379.77 388.90,379.82 389.20,379.90 389.50,379.99 389.80,379.92 390.10,379.71 390.40,379.66 390.70,379.90 391.00,380.21 391.30,380.38 391.60,380.34 391.90,380.19 392.20,380.18 392.50,380.41 392.80,380.56 393.10,380.47 393.40,380.45 393.70,380.52 394.00,380.68 394.30,381.00 394.60,381.01 394.90,380.70 395.20,380.55 395.50,380.59 395.80,380.68 396.10,380.75 396.40,380.82 396.70,380.91 397.00,380.92 397.30,380.87 397.60,380.95 397.90,380.97 398.20,380.95 398.50,380.92"/>
<rect x="418.13" y="317.85" width="99.50" height="64.45" fill="none" stroke="#4a4a4a" stroke-width="1.2"/>
<text x="419.60" y="313.75" font-family="Liberation Sans, sans-serif" font-weight="normal" font-size="8.4" letter-spacing="0.6" fill="#111" stroke="#111" stroke-width="0.25">Vβ22-Cβ</text>
<path d="M467.60,382.30 V385.40" stroke="#333" stroke-width="0.9"/>
<text x="468.00" y="391.70" font-family="Liberation Sans, sans-serif" font-size="6.1" fill="#1a1a1a" stroke="#1a1a1a" stroke-width="0.3" text-anchor="middle">10</text>
<polyline fill="none" stroke="#262626" stroke-width="1.12" stroke-linejoin="round" points="419.10,379.72 419.40,379.73 419.70,379.64 420.00,379.61 420.30,379.50 420.60,379.41 420.90,379.45 421.20,379.43 421.50,379.38 421.80,379.41 422.10,379.37 422.40,379.23 422.70,379.22 423.00,379.27 423.30,379.27 423.60,379.31 423.90,379.45 424.20,379.49 424.50,379.37 424.80,379.36 425.10,379.32 425.40,379.29 425.70,379.49 426.00,379.60 426.30,379.38 426.60,379.14 426.90,379.13 427.20,379.06 427.50,379.00 427.80,379.08 428.10,379.23 428.40,379.35 428.70,379.22 429.00,379.16 429.30,379.29 429.60,379.19 429.90,378.94 430.20,378.88 430.50,379.04 430.80,379.20 431.10,379.29 431.40,379.28 431.70,379.17 432.00,379.10 432.30,379.19 432.60,379.16 432.90,378.98 433.20,378.88 433.50,378.82 433.80,378.81 434.10,378.82 434.40,378.68 434.70,378.50 435.00,378.35 435.30,378.10 435.60,377.52 435.90,376.58 436.20,375.67 436.50,375.05 436.80,374.58 437.10,374.53 437.40,375.01 437.70,375.62 438.00,376.33 438.30,376.97 438.60,377.40 438.90,377.81 439.20,378.07 439.50,378.22 439.80,378.40 440.10,378.59 440.40,378.67 440.70,378.64 441.00,378.72 441.30,378.86 441.60,378.79 441.90,378.59 442.20,378.41 442.50,378.33 442.80,378.25 443.10,378.17 443.40,378.21 443.70,378.15 444.00,377.95 444.30,377.77 444.60,377.70 444.90,377.81 445.20,377.74 445.50,377.51 445.80,377.50 446.10,377.62 446.40,377.68 446.70,377.61 447.00,377.58 447.30,377.53 447.60,377.46 447.90,377.48 448.20,377.29 448.50,377.07 448.80,376.85 449.10,376.58 449.40,376.44 449.70,376.04 450.00,375.37 450.30,374.62 450.60,373.59 450.90,372.24 451.20,370.53 451.50,368.12 451.80,364.77 452.10,361.17 452.40,358.49 452.70,358.13 453.00,360.28 453.30,363.56 453.60,366.68 453.90,369.20 454.20,371.37 454.50,372.97 454.80,373.91 455.10,374.43 455.40,374.79 455.70,375.18 456.00,375.48 456.30,375.55 456.60,375.59 456.90,375.73 457.20,375.45 457.50,374.52 457.80,373.02 458.10,370.72 458.40,367.04 458.70,361.78 459.00,355.67 459.30,349.24 459.60,343.31 459.90,339.86 460.20,340.46 460.50,344.70 460.80,351.02 461.10,357.59 461.40,363.12 461.70,367.44 462.00,370.57 462.30,372.53 462.60,373.48 462.90,373.78 463.20,373.91 463.50,373.71 463.80,373.17 464.10,372.57 464.40,371.70 464.70,370.44 465.00,368.98 465.30,367.25 465.60,364.58 465.90,360.57 466.20,355.36 466.50,348.42 466.80,339.54 467.10,329.82 467.40,322.16 467.70,320.88 468.00,326.83 468.30,336.43 468.60,345.97 468.90,353.57 469.20,359.21 469.50,363.37 469.80,366.43 470.10,368.73 470.40,370.54 470.70,372.01 471.00,372.98 471.30,373.50 471.60,373.97 471.90,374.43 472.20,374.70 472.50,374.99 472.80,375.38 473.10,375.46 473.40,375.18 473.70,374.98 474.00,375.07 474.30,375.36 474.60,375.83 474.90,376.22 475.20,376.42 475.50,376.69 475.80,377.05 476.10,377.24 476.40,377.19 476.70,377.13 477.00,377.28 477.30,377.49 477.60,377.54 477.90,377.60 478.20,377.65 478.50,377.73 478.80,377.91 479.10,377.94 479.40,377.78 479.70,377.78 480.00,377.90 480.30,378.01 480.60,378.16 480.90,378.16 481.20,377.99 481.50,377.85 481.80,377.77 482.10,377.74 482.40,377.75 482.70,377.90 483.00,377.99 483.30,377.92 483.60,377.98 483.90,378.04 484.20,377.98 484.50,378.15 484.80,378.36 485.10,378.25 485.40,378.23 485.70,378.36 486.00,378.24 486.30,378.15 486.60,378.18 486.90,378.17 487.20,378.23 487.50,378.22 487.80,378.08 488.10,378.02 488.40,377.98 488.70,378.02 489.00,378.20 489.30,378.31 489.60,378.23 489.90,378.21 490.20,378.31 490.50,378.30 490.80,378.22 491.10,378.23 491.40,378.18 491.70,378.22 492.00,378.25 492.30,378.13 492.60,378.10 492.90,377.95 493.20,377.76 493.50,377.57 493.80,377.30 494.10,377.07 494.40,376.61 494.70,375.83 495.00,375.06 495.30,374.33 495.60,373.73 495.90,373.56 496.20,373.75 496.50,374.07 496.80,374.57 497.10,375.31 497.40,376.02 497.70,376.60 498.00,377.24 498.30,377.64 498.60,377.82 498.90,378.08 499.20,378.26 499.50,378.40 499.80,378.46 500.10,378.44 500.40,378.46 500.70,378.49 501.00,378.55 501.30,378.55 501.60,378.53 501.90,378.56 502.20,378.45 502.50,378.39 502.80,378.55 503.10,378.62 503.40,378.57 503.70,378.56 504.00,378.55 504.30,378.53 504.60,378.47 504.90,378.46 505.20,378.57 505.50,378.64 505.80,378.69 506.10,378.68 506.40,378.66 506.70,378.69 507.00,378.77 507.30,378.80 507.60,378.63 507.90,378.55 508.20,378.65 508.50,378.66 508.80,378.63 509.10,378.68 509.40,378.63 509.70,378.46 510.00,378.14 510.30,377.78 510.60,377.58 510.90,377.52 511.20,377.63 511.50,377.91 511.80,378.20 512.10,378.29 512.40,378.34 512.70,378.61 513.00,378.78 513.30,378.75 513.60,378.62 513.90,378.43 514.20,378.25 514.50,378.14 514.80,378.07 515.10,378.03 515.40,378.09 515.70,378.37 516.00,378.77 516.30,378.98 516.60,379.04 516.90,379.17 517.20,379.28"/>
<rect x="59.35" y="420.70" width="100.15" height="64.70" fill="none" stroke="#4a4a4a" stroke-width="1.2"/>
<text x="60.95" y="416.60" font-family="Liberation Sans, sans-serif" font-weight="normal" font-size="8.4" letter-spacing="0.6" fill="#111" stroke="#111" stroke-width="0.25">Vβ5-Cβ</text>
<path d="M109.60,485.40 V488.50" stroke="#333" stroke-width="0.9"/>
<text x="110.00" y="494.80" font-family="Liberation Sans, sans-serif" font-size="6.1" fill="#1a1a1a" stroke="#1a1a1a" stroke-width="0.3" text-anchor="middle">10</text>
<polyline fill="none" stroke="#262626" stroke-width="1.12" stroke-linejoin="round" points="60.45,478.16 60.75,477.56 61.05,477.45 61.35,478.04 61.65,478.53 61.95,478.43 62.25,479.18 62.55,480.36 62.85,479.71 63.15,478.18 63.45,477.89 63.75,477.71 64.05,476.71 64.35,477.01 64.65,478.08 64.95,478.88 65.25,479.22 65.55,477.90 65.85,476.66 66.15,476.94 66.45,477.60 66.75,478.68 67.05,479.41 67.35,478.49 67.65,478.13 67.95,478.54 68.25,478.34 68.55,478.38 68.85,478.66 69.15,478.07 69.45,477.37 69.75,477.82 70.05,478.04 70.35,477.70 70.65,478.14 70.95,478.05 71.25,477.31 71.55,477.71 71.85,478.25 72.15,478.99 72.45,479.50 72.75,479.14 73.05,479.44 73.35,479.36 73.65,477.74 73.95,476.63 74.25,477.15 74.55,477.45 74.85,477.22 75.15,477.61 75.45,477.19 75.75,476.09 76.05,475.98 76.35,476.52 76.65,477.45 76.95,479.41 77.25,481.05 77.55,481.25 77.85,481.05 78.15,481.06 78.45,480.89 78.75,480.65 79.05,480.03 79.35,478.39 79.65,476.88 79.95,476.96 80.25,477.39 80.55,477.02 80.85,476.63 81.15,476.35 81.45,476.98 81.75,478.52 82.05,478.82 82.35,477.41 82.65,476.59 82.95,476.53 83.25,476.71 83.55,477.24 83.85,477.90 84.15,477.89 84.45,476.92 84.75,476.41 85.05,476.16 85.35,475.32 85.65,473.28 85.95,470.79 86.25,468.97 86.55,465.71 86.85,462.28 87.15,460.26 87.45,459.12 87.75,459.56 88.05,460.96 88.35,462.76 88.65,464.83 88.95,467.48 89.25,470.07 89.55,472.42 89.85,474.60 90.15,475.28 90.45,474.39 90.75,473.79 91.05,475.03 91.35,475.57 91.65,474.18 91.95,472.00 92.25,469.53 92.55,467.70 92.85,466.01 93.15,463.81 93.45,460.06 93.75,454.59 94.05,448.99 94.35,443.13 94.65,437.48 94.95,435.36 95.25,437.19 95.55,441.09 95.85,446.30 96.15,451.92 96.45,457.86 96.75,462.44 97.05,465.15 97.35,468.10 97.65,470.61 97.95,472.81 98.25,474.37 98.55,474.60 98.85,475.32 99.15,475.44 99.45,474.48 99.75,474.02 100.05,473.49 100.35,472.94 100.65,472.65 100.95,471.74 101.25,469.87 101.55,467.50 101.85,466.28 102.15,464.73 102.45,461.43 102.75,457.75 103.05,453.78 103.35,450.01 103.65,446.37 103.95,443.64 104.25,444.10 104.55,447.48 104.85,452.47 105.15,458.42 105.45,462.45 105.75,463.51 106.05,465.85 106.35,468.87 106.65,469.35 106.95,470.67 107.25,473.10 107.55,473.15 107.85,472.48 108.15,472.78 108.45,472.68 108.75,472.38 109.05,472.51 109.35,470.81 109.65,466.96 109.95,462.69 110.25,458.21 110.55,453.35 110.85,447.09 111.15,438.91 111.45,430.63 111.75,425.12 112.05,423.68 112.35,426.02 112.65,432.26 112.95,440.50 113.25,447.72 113.55,453.43 113.85,459.17 114.15,465.05 114.45,469.40 114.75,472.02 115.05,473.14 115.35,474.06 115.65,475.59 115.95,475.28 116.25,473.33 116.55,473.25 116.85,474.48 117.15,474.54 117.45,474.14 117.75,474.44 118.05,473.52 118.35,470.93 118.65,469.59 118.95,469.64 119.25,469.58 119.55,470.12 119.85,471.85 120.15,474.10 120.45,475.85 120.75,475.75 121.05,474.59 121.35,474.49 121.65,475.22 121.95,475.51 122.25,475.90 122.55,476.64 122.85,476.90 123.15,477.33 123.45,477.89 123.75,478.52 124.05,478.96 124.35,477.74 124.65,475.99 124.95,475.07 125.25,475.66 125.55,477.34 125.85,477.73 126.15,477.07 126.45,476.47 126.75,476.23 127.05,476.66 127.35,476.37 127.65,475.93 127.95,476.18 128.25,476.06 128.55,476.68 128.85,477.43 129.15,477.22 129.45,477.54 129.75,478.60 130.05,478.74 130.35,478.02 130.65,477.44 130.95,477.58 131.25,478.49 131.55,479.18 131.85,478.80 132.15,477.64 132.45,477.01 132.75,476.56 133.05,475.28 133.35,473.90 133.65,472.86 133.95,471.26 134.25,468.50 134.55,464.76 134.85,461.29 135.15,458.84 135.45,456.18 135.75,454.26 136.05,454.67 136.35,455.76 136.65,456.57 136.95,458.12 137.25,461.48 137.55,465.58 137.85,468.53 138.15,470.54 138.45,472.69 138.75,474.24 139.05,474.57 139.35,475.65 139.65,476.99 139.95,477.30 140.25,476.48 140.55,475.06 140.85,474.28 141.15,473.29 141.45,471.41 141.75,470.05 142.05,469.77 142.35,468.07 142.65,464.74 142.95,461.96 143.25,458.71 143.55,455.23 143.85,453.79 144.15,454.49 144.45,456.44 144.75,458.20 145.05,461.01 145.35,465.55 145.65,468.13 145.95,468.82 146.25,470.20 146.55,472.34 146.85,474.14 147.15,475.13 147.45,475.66 147.75,476.44 148.05,477.19 148.35,477.45 148.65,478.31 148.95,478.36 149.25,477.30 149.55,477.89 149.85,479.13 150.15,479.44 150.45,479.85 150.75,479.53 151.05,478.28 151.35,478.30 151.65,478.95 151.95,479.08 152.25,479.80 152.55,480.30 152.85,479.68 153.15,479.29 153.45,478.50 153.75,477.42 154.05,477.89 154.35,478.76 154.65,479.31 154.95,480.31 155.25,480.36 155.55,479.83 155.85,479.93 156.15,479.74 156.45,479.53 156.75,478.99 157.05,478.26 157.35,478.03 157.65,478.55 157.95,480.31 158.25,481.48 158.55,480.90 158.85,480.21 159.15,479.52 159.45,478.65"/>
<rect x="178.95" y="420.70" width="99.65" height="64.70" fill="none" stroke="#4a4a4a" stroke-width="1.2"/>
<text x="180.55" y="416.60" font-family="Liberation Sans, sans-serif" font-weight="normal" font-size="8.4" letter-spacing="0.6" fill="#111" stroke="#111" stroke-width="0.25">Vβ11-Cβ</text>
<path d="M228.40,485.40 V488.50" stroke="#333" stroke-width="0.9"/>
<text x="228.80" y="494.80" font-family="Liberation Sans, sans-serif" font-size="6.1" fill="#1a1a1a" stroke="#1a1a1a" stroke-width="0.3" text-anchor="middle">10</text>
<polyline fill="none" stroke="#262626" stroke-width="1.12" stroke-linejoin="round" points="180.05,481.41 180.35,481.74 180.65,481.64 180.95,481.08 181.25,480.79 181.55,481.11 181.85,481.62 182.15,481.60 182.45,481.45 182.75,481.41 183.05,481.24 183.35,481.14 183.65,481.19 183.95,481.29 184.25,481.29 184.55,481.46 184.85,481.61 185.15,481.53 185.45,481.39 185.75,481.08 186.05,481.02 186.35,481.25 186.65,481.18 186.95,480.99 187.25,481.22 187.55,481.45 187.85,481.31 188.15,481.22 188.45,481.26 188.75,481.34 189.05,481.45 189.35,481.50 189.65,481.54 189.95,481.55 190.25,481.47 190.55,481.30 190.85,480.88 191.15,480.55 191.45,480.79 191.75,480.98 192.05,480.84 192.35,480.89 192.65,481.01 192.95,480.96 193.25,481.08 193.55,481.23 193.85,481.33 194.15,481.59 194.45,481.78 194.75,481.73 195.05,481.62 195.35,481.52 195.65,481.27 195.95,481.06 196.25,481.01 196.55,481.17 196.85,481.28 197.15,481.11 197.45,480.91 197.75,480.99 198.05,481.18 198.35,481.11 198.65,480.95 198.95,480.88 199.25,480.66 199.55,480.42 199.85,480.45 200.15,480.62 200.45,480.81 200.75,480.71 201.05,480.30 201.35,479.97 201.65,479.90 201.95,479.90 202.25,479.85 202.55,479.70 202.85,479.15 203.15,478.55 203.45,477.99 203.75,477.37 204.05,476.54 204.35,475.04 204.65,472.58 204.95,468.29 205.25,461.91 205.55,453.77 205.85,443.80 206.15,432.71 206.45,424.22 206.75,423.96 207.05,432.29 207.35,443.62 207.65,453.82 207.95,462.16 208.25,468.37 208.55,472.51 208.85,475.26 209.15,476.91 209.45,477.61 209.75,478.17 210.05,478.91 210.35,479.31 210.65,479.56 210.95,479.80 211.25,479.99 211.55,480.05 211.85,480.15 212.15,480.14 212.45,479.90 212.75,480.11 213.05,480.50 213.35,480.57 213.65,480.33 213.95,480.23 214.25,480.44 214.55,480.58 214.85,480.79 215.15,480.91 215.45,480.98 215.75,481.24 216.05,481.13 216.35,480.59 216.65,480.55 216.95,481.21 217.25,481.42 217.55,481.02 217.85,480.81 218.15,480.70 218.45,481.00 218.75,481.51 219.05,481.34 219.35,481.03 219.65,480.88 219.95,480.77 220.25,481.11 220.55,481.54 220.85,481.41 221.15,480.94 221.45,480.82 221.75,481.03 222.05,481.04 222.35,480.88 222.65,480.89 222.95,481.06 223.25,481.05 223.55,480.95 223.85,480.98 224.15,480.91 224.45,480.65 224.75,480.32 225.05,480.28 225.35,480.81 225.65,481.24 225.95,480.94 226.25,480.17 226.55,479.29 226.85,478.31 227.15,477.08 227.45,475.67 227.75,474.44 228.05,474.02 228.35,474.56 228.65,475.99 228.95,477.66 229.25,478.57 229.55,479.16 229.85,479.78 230.15,480.23 230.45,480.56 230.75,480.53 231.05,480.35 231.35,480.50 231.65,480.50 231.95,479.84 232.25,478.87 232.55,477.45 232.85,475.44 233.15,472.80 233.45,468.55 233.75,462.99 234.05,457.03 234.35,451.26 234.65,446.98 234.95,445.12 235.25,446.13 235.55,449.94 235.85,455.34 236.15,461.09 236.45,466.53 236.75,470.79 237.05,473.93 237.35,476.71 237.65,478.54 237.95,479.11 238.25,479.58 238.55,480.11 238.85,480.23 239.15,480.29 239.45,480.50 239.75,480.72 240.05,480.88 240.35,480.84 240.65,480.76 240.95,481.05 241.25,481.19 241.55,481.05 241.85,480.96 242.15,480.77 242.45,480.87 242.75,481.19 243.05,480.99 243.35,480.77 243.65,480.98 243.95,481.16 244.25,481.14 244.55,480.90 244.85,480.67 245.15,480.60 245.45,480.77 245.75,481.10 246.05,481.28 246.35,481.30 246.65,481.17 246.95,481.22 247.25,481.45 247.55,481.08 247.85,480.77 248.15,481.01 248.45,481.04 248.75,480.95 249.05,481.03 249.35,481.00 249.65,480.83 249.95,480.87 250.25,481.16 250.55,481.25 250.85,480.98 251.15,480.99 251.45,481.32 251.75,481.34 252.05,481.10 252.35,481.06 252.65,481.22 252.95,481.19 253.25,481.11 253.55,481.12 253.85,481.20 254.15,481.24 254.45,480.88 254.75,480.56 255.05,480.78 255.35,481.06 255.65,481.04 255.95,480.83 256.25,480.80 256.55,481.14 256.85,481.13 257.15,480.80 257.45,480.79 257.75,480.94 258.05,481.04 258.35,480.90 258.65,480.87 258.95,481.22 259.25,481.26 259.55,480.95 259.85,480.73 260.15,480.73 260.45,480.74 260.75,480.86 261.05,481.18 261.35,481.12 261.65,480.98 261.95,481.03 262.25,481.19 262.55,481.04 262.85,480.73 263.15,480.96 263.45,481.26 263.75,481.35 264.05,481.14 264.35,480.71 264.65,480.82 264.95,481.30 265.25,481.36 265.55,481.20 265.85,481.15 266.15,481.15 266.45,481.21 266.75,481.07 267.05,480.94 267.35,481.04 267.65,481.12 267.95,481.14 268.25,481.06 268.55,481.29 268.85,481.69 269.15,481.52 269.45,481.16 269.75,481.00 270.05,481.05 270.35,481.27 270.65,481.33 270.95,481.40 271.25,481.49 271.55,481.46 271.85,481.46 272.15,481.59 272.45,481.65 272.75,481.44 273.05,481.05 273.35,480.70 273.65,480.67 273.95,480.84 274.25,481.12 274.55,481.34 274.85,481.15 275.15,481.01 275.45,481.28 275.75,481.35 276.05,481.05 276.35,480.89 276.65,481.06 276.95,481.33 277.25,481.30 277.55,481.02 277.85,480.87 278.15,480.95 278.45,481.10"/>
<rect x="298.10" y="420.70" width="100.50" height="64.70" fill="none" stroke="#4a4a4a" stroke-width="1.2"/>
<text x="299.70" y="416.60" font-family="Liberation Sans, sans-serif" font-weight="normal" font-size="8.4" letter-spacing="0.6" fill="#111" stroke="#111" stroke-width="0.25">Vβ16-Cβ</text>
<path d="M348.00,485.40 V488.50" stroke="#333" stroke-width="0.9"/>
<text x="348.40" y="494.80" font-family="Liberation Sans, sans-serif" font-size="6.1" fill="#1a1a1a" stroke="#1a1a1a" stroke-width="0.3" text-anchor="middle">10</text>
<polyline fill="none" stroke="#262626" stroke-width="1.12" stroke-linejoin="round" points="299.20,481.97 299.50,481.96 299.80,481.95 300.10,481.94 300.40,481.92 300.70,481.91 301.00,481.90 301.30,481.89 301.60,481.87 301.90,481.86 302.20,481.85 302.50,481.84 302.80,481.82 303.10,481.81 303.40,481.80 303.70,481.79 304.00,481.77 304.30,481.76 304.60,481.75 304.90,481.74 305.20,481.72 305.50,481.71 305.80,481.70 306.10,481.69 306.40,481.67 306.70,481.66 307.00,481.65 307.30,481.64 307.60,481.62 307.90,481.61 308.20,481.60 308.50,481.59 308.80,481.57 309.10,481.56 309.40,481.55 309.70,481.54 310.00,481.52 310.30,481.51 310.60,481.50 310.90,481.49 311.20,481.47 311.50,481.46 311.80,481.45 312.10,481.44 312.40,481.42 312.70,481.41 313.00,481.40 313.30,481.39 313.60,481.37 313.90,481.36 314.20,481.35 314.50,481.34 314.80,481.32 315.10,481.31 315.40,481.30 315.70,481.29 316.00,481.27 316.30,481.26 316.60,481.25 316.90,481.23 317.20,481.22 317.50,481.21 317.80,481.20 318.10,481.18 318.40,481.17 318.70,481.16 319.00,481.15 319.30,481.13 319.60,481.12 319.90,481.11 320.20,481.10 320.50,481.08 320.80,481.07 321.10,481.06 321.40,481.05 321.70,481.03 322.00,481.02 322.30,481.01 322.60,481.00 322.90,480.98 323.20,480.97 323.50,480.96 323.80,480.95 324.10,480.93 324.40,480.92 324.70,480.91 325.00,480.90 325.30,480.88 325.60,480.87 325.90,480.86 326.20,480.85 326.50,480.83 326.80,480.82 327.10,480.81 327.40,480.80 327.70,480.78 328.00,480.77 328.30,480.76 328.60,480.75 328.90,480.73 329.20,480.72 329.50,480.71 329.80,480.70 330.10,480.68 330.40,480.67 330.70,480.66 331.00,480.65 331.30,480.63 331.60,480.62 331.90,480.61 332.20,480.60 332.50,480.58 332.80,480.57 333.10,480.56 333.40,480.54 333.70,480.53 334.00,480.52 334.30,480.51 334.60,480.49 334.90,480.48 335.20,480.47 335.50,480.46 335.80,480.44 336.10,480.43 336.40,480.42 336.70,480.41 337.00,480.39 337.30,480.38 337.60,480.37 337.90,480.36 338.20,480.34 338.50,480.33 338.80,480.32 339.10,480.31 339.40,480.29 339.70,480.28 340.00,480.27 340.30,480.26 340.60,480.24 340.90,480.23 341.20,480.22 341.50,480.21 341.80,480.19 342.10,480.18 342.40,480.17 342.70,480.16 343.00,480.14 343.30,480.13 343.60,480.12 343.90,480.11 344.20,480.09 344.50,480.08 344.80,480.07 345.10,480.06 345.40,480.04 345.70,480.03 346.00,480.02 346.30,480.01 346.60,479.99 346.90,479.98 347.20,479.97 347.50,479.96 347.80,479.94 348.10,479.93 348.40,479.92 348.70,479.91 349.00,479.89 349.30,479.88 349.60,479.87 349.90,479.86 350.20,479.84 350.50,479.83 350.80,479.82 351.10,479.80 351.40,479.79 351.70,479.78 352.00,479.77 352.30,479.75 352.60,479.74 352.90,479.73 353.20,479.72 353.50,479.70 353.80,479.69 354.10,479.68 354.40,479.67 354.70,479.65 355.00,479.64 355.30,479.63 355.60,479.62 355.90,479.60 356.20,479.66 356.50,479.74 356.80,479.83 357.10,479.91 357.40,480.00 357.70,480.09 358.00,480.17 358.30,480.26 358.60,480.34 358.90,480.43 359.20,480.51 359.50,480.60 359.80,480.69 360.10,480.77 360.40,480.86 360.70,480.94 361.00,481.03 361.30,481.11 361.60,481.20 361.90,481.29 362.20,481.37 362.50,481.46 362.80,481.54 363.10,481.60 363.40,481.58 363.70,481.57 364.00,481.56 364.30,481.55 364.60,481.54 364.90,481.52 365.20,481.51 365.50,481.50 365.80,481.49 366.10,481.48 366.40,481.46 366.70,481.45 367.00,481.44 367.30,481.43 367.60,481.42 367.90,481.40 368.20,481.39 368.50,481.38 368.80,481.37 369.10,481.36 369.40,481.34 369.70,481.33 370.00,481.32 370.30,481.31 370.60,481.30 370.90,481.28 371.20,481.27 371.50,481.26 371.80,481.25 372.10,481.24 372.40,481.22 372.70,481.21 373.00,481.20 373.30,481.26 373.60,481.32 373.90,481.38 374.20,481.44 374.50,481.50 374.80,481.56 375.10,481.60 375.40,481.62 375.70,481.63 376.00,481.64 376.30,481.66 376.60,481.67 376.90,481.68 377.20,481.70 377.50,481.71 377.80,481.72 378.10,481.74 378.40,481.75 378.70,481.76 379.00,481.78 379.30,481.79 379.60,481.80 379.90,481.82 380.20,481.83 380.50,481.84 380.80,481.86 381.10,481.87 381.40,481.88 381.70,481.90 382.00,481.91 382.30,481.92 382.60,481.94 382.90,481.95 383.20,481.96 383.50,481.98 383.80,481.99 384.10,482.00 384.40,482.02 384.70,482.03 385.00,482.04 385.30,482.06 385.60,482.07 385.90,482.08 386.20,482.10 386.50,482.11 386.80,482.12 387.10,482.14 387.40,482.15 387.70,482.16 388.00,482.18 388.30,482.19 388.60,482.20 388.90,482.22 389.20,482.23 389.50,482.24 389.80,482.26 390.10,482.27 390.40,482.28 390.70,482.30 391.00,482.31 391.30,482.32 391.60,482.34 391.90,482.35 392.20,482.36 392.50,482.38 392.80,482.39 393.10,482.43 393.40,482.52 393.70,482.61 394.00,482.70 394.30,482.79 394.60,482.88 394.90,482.97 395.20,483.06 395.50,483.15 395.80,483.24 396.10,483.33 396.40,483.42 396.70,483.51 397.00,483.60 397.30,483.60 397.60,483.60 397.90,483.60 398.20,483.60 398.50,483.60"/>
<rect x="418.00" y="420.70" width="99.50" height="64.70" fill="none" stroke="#4a4a4a" stroke-width="1.2"/>
<text x="419.60" y="416.60" font-family="Liberation Sans, sans-serif" font-weight="normal" font-size="8.4" letter-spacing="0.6" fill="#111" stroke="#111" stroke-width="0.25">Vβ23-Cβ</text>
<path d="M467.60,485.40 V488.50" stroke="#333" stroke-width="0.9"/>
<text x="468.00" y="494.80" font-family="Liberation Sans, sans-serif" font-size="6.1" fill="#1a1a1a" stroke="#1a1a1a" stroke-width="0.3" text-anchor="middle">10</text>
<polyline fill="none" stroke="#262626" stroke-width="1.12" stroke-linejoin="round" points="419.10,482.10 419.40,482.21 419.70,482.07 420.00,481.89 420.30,481.90 420.60,481.91 420.90,481.84 421.20,481.81 421.50,481.91 421.80,481.96 422.10,481.83 422.40,481.95 422.70,482.09 423.00,481.91 423.30,481.85 423.60,481.98 423.90,481.95 424.20,481.99 424.50,482.01 424.80,481.78 425.10,481.71 425.40,481.66 425.70,481.52 426.00,481.60 426.30,481.66 426.60,481.60 426.90,481.69 427.20,481.86 427.50,481.98 427.80,481.94 428.10,481.83 428.40,481.76 428.70,481.70 429.00,481.70 429.30,481.69 429.60,481.53 429.90,481.46 430.20,481.64 430.50,481.73 430.80,481.45 431.10,481.30 431.40,481.59 431.70,481.71 432.00,481.62 432.30,481.66 432.60,481.81 432.90,481.83 433.20,481.66 433.50,481.70 433.80,481.91 434.10,481.73 434.40,481.32 434.70,481.38 435.00,481.57 435.30,481.40 435.60,481.34 435.90,481.34 436.20,481.39 436.50,481.31 436.80,481.00 437.10,481.10 437.40,481.36 437.70,481.41 438.00,481.24 438.30,480.81 438.60,480.56 438.90,480.52 439.20,480.38 439.50,480.10 439.80,479.82 440.10,479.61 440.40,479.38 440.70,478.96 441.00,478.38 441.30,477.88 441.60,477.07 441.90,475.72 442.20,474.13 442.50,471.75 442.80,468.14 443.10,462.96 443.40,455.47 443.70,445.04 444.00,432.72 444.30,424.14 444.60,426.37 444.90,437.28 445.20,449.05 445.50,458.23 445.80,464.74 446.10,469.33 446.40,472.63 446.70,474.78 447.00,476.28 447.30,477.33 447.60,477.92 447.90,478.49 448.20,479.07 448.50,479.38 448.80,479.56 449.10,479.82 449.40,480.09 449.70,480.19 450.00,480.29 450.30,480.54 450.60,480.59 450.90,480.59 451.20,480.73 451.50,480.82 451.80,480.90 452.10,480.97 452.40,481.15 452.70,481.32 453.00,481.21 453.30,480.95 453.60,480.78 453.90,480.83 454.20,481.04 454.50,481.22 454.80,481.15 455.10,481.07 455.40,481.14 455.70,480.84 456.00,480.28 456.30,480.02 456.60,479.73 456.90,478.77 457.20,476.91 457.50,474.02 457.80,469.85 458.10,464.18 458.40,457.21 458.70,450.60 459.00,447.79 459.30,450.61 459.60,456.85 459.90,463.64 460.20,469.18 460.50,473.05 460.80,475.67 461.10,477.36 461.40,478.16 461.70,478.22 462.00,478.15 462.30,478.05 462.60,477.71 462.90,477.61 463.20,477.58 463.50,477.24 463.80,476.95 464.10,476.58 464.40,475.62 464.70,473.88 465.00,471.16 465.30,466.79 465.60,460.76 465.90,453.74 466.20,446.55 466.50,441.76 466.80,442.47 467.10,448.10 467.40,455.53 467.70,462.37 468.00,467.46 468.30,470.68 468.60,472.76 468.90,474.09 469.20,474.57 469.50,474.87 469.80,475.25 470.10,475.29 470.40,475.20 470.70,475.02 471.00,474.78 471.30,474.34 471.60,473.59 471.90,472.94 472.20,472.46 472.50,471.90 472.80,471.42 473.10,471.40 473.40,471.91 473.70,473.08 474.00,474.70 474.30,476.04 474.60,476.92 474.90,477.66 475.20,478.51 475.50,479.24 475.80,479.75 476.10,480.17 476.40,480.42 476.70,480.59 477.00,480.74 477.30,480.91 477.60,481.08 477.90,481.03 478.20,481.02 478.50,481.21 478.80,481.18 479.10,481.25 479.40,481.40 479.70,481.43 480.00,481.61 480.30,481.88 480.60,481.81 480.90,481.58 481.20,481.69 481.50,481.70 481.80,481.49 482.10,481.61 482.40,481.75 482.70,481.72 483.00,481.80 483.30,481.91 483.60,481.90 483.90,481.72 484.20,481.63 484.50,481.77 484.80,481.82 485.10,481.89 485.40,481.99 485.70,481.95 486.00,481.93 486.30,481.86 486.60,481.71 486.90,481.68 487.20,481.85 487.50,481.81 487.80,481.58 488.10,481.58 488.40,481.62 488.70,481.68 489.00,481.75 489.30,481.74 489.60,481.82 489.90,481.99 490.20,481.98 490.50,481.84 490.80,481.91 491.10,481.94 491.40,481.77 491.70,481.72 492.00,481.67 492.30,481.57 492.60,481.47 492.90,481.44 493.20,481.48 493.50,481.48 493.80,481.25 494.10,480.79 494.40,480.20 494.70,479.21 495.00,477.60 495.30,474.82 495.60,470.66 495.90,465.68 496.20,460.62 496.50,457.51 496.80,458.28 497.10,462.30 497.40,467.48 497.70,472.12 498.00,475.65 498.30,478.23 498.60,479.89 498.90,480.67 499.20,481.10 499.50,481.57 499.80,481.70 500.10,481.46 500.40,481.24 500.70,481.10 501.00,481.21 501.30,481.67 501.60,482.04 501.90,482.15 502.20,482.08 502.50,481.83 502.80,481.68 503.10,481.76 503.40,481.97 503.70,482.11 504.00,481.98 504.30,481.92 504.60,481.95 504.90,481.89 505.20,481.83 505.50,481.94 505.80,482.03 506.10,481.92 506.40,481.90 506.70,481.95 507.00,481.84 507.30,481.65 507.60,481.70 507.90,481.82 508.20,481.83 508.50,481.77 508.80,481.63 509.10,481.69 509.40,481.93 509.70,482.06 510.00,481.93 510.30,481.75 510.60,482.13 510.90,482.45 511.20,482.12 511.50,482.01 511.80,482.06 512.10,481.91 512.40,481.84 512.70,481.81 513.00,481.70 513.30,481.67 513.60,481.81 513.90,481.91 514.20,481.88 514.50,481.92 514.80,481.98 515.10,482.00 515.40,482.17 515.70,482.36 516.00,482.27 516.30,482.03 516.60,482.16 516.90,482.35 517.20,482.15"/>
<rect x="59.23" y="522.85" width="100.15" height="64.55" fill="none" stroke="#4a4a4a" stroke-width="1.2"/>
<text x="60.95" y="518.75" font-family="Liberation Sans, sans-serif" font-weight="normal" font-size="8.4" letter-spacing="0.6" fill="#111" stroke="#111" stroke-width="0.25">Vβ6A-Cβ</text>
<path d="M109.60,587.40 V590.50" stroke="#333" stroke-width="0.9"/>
<text x="110.00" y="596.80" font-family="Liberation Sans, sans-serif" font-size="6.1" fill="#1a1a1a" stroke="#1a1a1a" stroke-width="0.3" text-anchor="middle">10</text>
<polyline fill="none" stroke="#262626" stroke-width="1.12" stroke-linejoin="round" points="60.45,584.12 60.75,584.11 61.05,584.10 61.35,584.09 61.65,584.08 61.95,584.07 62.25,584.05 62.55,584.04 62.85,584.03 63.15,584.01 63.45,583.99 63.75,583.98 64.05,583.96 64.35,583.94 64.65,583.92 64.95,583.89 65.25,583.86 65.55,583.84 65.85,583.80 66.15,583.77 66.45,583.73 66.75,583.68 67.05,583.64 67.35,583.58 67.65,583.52 67.95,583.44 68.25,583.36 68.55,583.26 68.85,583.15 69.15,583.02 69.45,582.85 69.75,582.66 70.05,582.41 70.35,582.08 70.65,581.63 70.95,581.00 71.25,580.06 71.55,578.68 71.85,576.69 72.15,573.90 72.45,570.15 72.75,565.42 73.05,560.08 73.35,555.51 73.65,554.06 73.95,556.73 74.25,561.72 74.55,566.87 74.85,571.21 75.15,574.54 75.45,576.95 75.75,578.62 76.05,579.71 76.35,580.39 76.65,580.79 76.95,580.99 77.25,581.03 77.55,580.93 77.85,580.68 78.15,580.27 78.45,579.64 78.75,578.75 79.05,577.56 79.35,576.12 79.65,574.74 79.95,574.01 80.25,574.39 80.55,575.63 80.85,577.10 81.15,578.40 81.45,579.40 81.75,580.12 82.05,580.63 82.35,580.98 82.65,581.19 82.95,581.31 83.25,581.35 83.55,581.32 83.85,581.23 84.15,581.06 84.45,580.82 84.75,580.48 85.05,580.01 85.35,579.35 85.65,578.42 85.95,577.14 86.25,575.38 86.55,573.00 86.85,569.87 87.15,565.88 87.45,560.97 87.75,555.31 88.05,549.52 88.35,545.01 88.65,543.64 88.95,546.08 89.25,551.06 89.55,556.77 89.85,562.06 90.15,566.48 90.45,569.98 90.75,572.63 91.05,574.55 91.35,575.86 91.65,576.70 91.95,577.15 92.25,577.31 92.55,577.20 92.85,576.86 93.15,576.27 93.45,575.42 93.75,574.26 94.05,572.74 94.35,570.77 94.65,568.27 94.95,565.18 95.25,561.51 95.55,557.46 95.85,553.58 96.15,550.79 96.45,550.04 96.75,551.63 97.05,554.98 97.35,559.09 97.65,563.14 97.95,566.72 98.25,569.71 98.55,572.13 98.85,574.06 99.15,575.59 99.45,576.79 99.75,577.71 100.05,578.41 100.35,578.91 100.65,579.19 100.95,579.22 101.25,578.90 101.55,578.07 101.85,576.51 102.15,573.95 102.45,570.12 102.75,564.86 103.05,558.18 103.35,550.40 103.65,542.17 103.95,534.47 104.25,528.55 104.55,525.71 104.85,526.69 105.15,531.11 105.45,537.77 105.75,545.37 106.05,552.84 106.35,559.42 106.65,564.70 106.95,568.57 107.25,571.17 107.55,572.74 107.85,573.58 108.15,573.93 108.45,573.99 108.75,573.87 109.05,573.64 109.35,573.32 109.65,572.92 109.95,572.47 110.25,572.02 110.55,571.66 110.85,571.52 111.15,571.78 111.45,572.43 111.75,573.29 112.05,574.22 112.35,575.13 112.65,575.95 112.95,576.69 113.25,577.34 113.55,577.91 113.85,578.43 114.15,578.90 114.45,579.33 114.75,579.72 115.05,580.06 115.35,580.36 115.65,580.60 115.95,580.76 116.25,580.84 116.55,580.79 116.85,580.58 117.15,580.17 117.45,579.50 117.75,578.51 118.05,577.15 118.35,575.37 118.65,573.19 118.95,570.78 119.25,568.65 119.55,567.61 119.85,568.25 120.15,570.24 120.45,572.77 120.75,575.20 121.05,577.28 121.35,578.96 121.65,580.26 121.95,581.24 122.25,581.97 122.55,582.51 122.85,582.90 123.15,583.18 123.45,583.40 123.75,583.56 124.05,583.70 124.35,583.80 124.65,583.89 124.95,583.97 125.25,584.03 125.55,584.09 125.85,584.14 126.15,584.18 126.45,584.22 126.75,584.25 127.05,584.28 127.35,584.31 127.65,584.33 127.95,584.35 128.25,584.37 128.55,584.39 128.85,584.40 129.15,584.42 129.45,584.43 129.75,584.44 130.05,584.45 130.35,584.45 130.65,584.45 130.95,584.46 131.25,584.45 131.55,584.45 131.85,584.43 132.15,584.41 132.45,584.37 132.75,584.31 133.05,584.20 133.35,584.03 133.65,583.78 133.95,583.42 134.25,582.94 134.55,582.35 134.85,581.66 135.15,580.92 135.45,580.24 135.75,579.74 136.05,579.61 136.35,579.89 136.65,580.48 136.95,581.21 137.25,581.95 137.55,582.62 137.85,583.19 138.15,583.64 138.45,583.97 138.75,584.21 139.05,584.36 139.35,584.47 139.65,584.54 139.95,584.58 140.25,584.62 140.55,584.64 140.85,584.66 141.15,584.68 141.45,584.69 141.75,584.70 142.05,584.71 142.35,584.72 142.65,584.73 142.95,584.74 143.25,584.75 143.55,584.76 143.85,584.77 144.15,584.77 144.45,584.78 144.75,584.78 145.05,584.79 145.35,584.80 145.65,584.80 145.95,584.81 146.25,584.81 146.55,584.82 146.85,584.82 147.15,584.82 147.45,584.83 147.75,584.83 148.05,584.84 148.35,584.84 148.65,584.84 148.95,584.85 149.25,584.85 149.55,584.86 149.85,584.86 150.15,584.86 150.45,584.87 150.75,584.87 151.05,584.87 151.35,584.88 151.65,584.88 151.95,584.88 152.25,584.89 152.55,584.89 152.85,584.89 153.15,584.90 153.45,584.90 153.75,584.90 154.05,584.91 154.35,584.91 154.65,584.91 154.95,584.91 155.25,584.92 155.55,584.92 155.85,584.92 156.15,584.93 156.45,584.93 156.75,584.93 157.05,584.93 157.35,584.94 157.65,584.94 157.95,584.94 158.25,584.94 158.55,584.94 158.85,584.95 159.15,584.95 159.45,584.95"/>
<rect x="178.83" y="522.85" width="99.65" height="64.55" fill="none" stroke="#4a4a4a" stroke-width="1.2"/>
<text x="180.55" y="518.75" font-family="Liberation Sans, sans-serif" font-weight="normal" font-size="8.4" letter-spacing="0.6" fill="#111" stroke="#111" stroke-width="0.25">Vβ12-Cβ</text>
<path d="M228.40,587.40 V590.50" stroke="#333" stroke-width="0.9"/>
<text x="228.80" y="596.80" font-family="Liberation Sans, sans-serif" font-size="6.1" fill="#1a1a1a" stroke="#1a1a1a" stroke-width="0.3" text-anchor="middle">10</text>
<polyline fill="none" stroke="#262626" stroke-width="1.12" stroke-linejoin="round" points="180.05,584.36 180.35,584.36 180.65,584.35 180.95,584.35 181.25,584.35 181.55,584.35 181.85,584.35 182.15,584.35 182.45,584.35 182.75,584.34 183.05,584.34 183.35,584.34 183.65,584.34 183.95,584.34 184.25,584.33 184.55,584.33 184.85,584.33 185.15,584.33 185.45,584.32 185.75,584.32 186.05,584.32 186.35,584.31 186.65,584.31 186.95,584.30 187.25,584.30 187.55,584.29 187.85,584.28 188.15,584.28 188.45,584.27 188.75,584.26 189.05,584.25 189.35,584.24 189.65,584.23 189.95,584.21 190.25,584.19 190.55,584.17 190.85,584.15 191.15,584.12 191.45,584.08 191.75,584.03 192.05,583.96 192.35,583.84 192.65,583.65 192.95,583.32 193.25,582.77 193.55,581.91 193.85,580.66 194.15,578.99 194.45,576.97 194.75,574.82 195.05,572.95 195.35,572.02 195.65,572.50 195.95,574.13 196.25,576.24 196.55,578.33 196.85,580.12 197.15,581.51 197.45,582.49 197.75,583.12 198.05,583.51 198.35,583.74 198.65,583.87 198.95,583.95 199.25,584.00 199.55,584.03 199.85,584.06 200.15,584.08 200.45,584.09 200.75,584.10 201.05,584.11 201.35,584.12 201.65,584.12 201.95,584.12 202.25,584.12 202.55,584.12 202.85,584.12 203.15,584.11 203.45,584.10 203.75,584.09 204.05,584.07 204.35,584.04 204.65,584.00 204.95,583.93 205.25,583.81 205.55,583.64 205.85,583.38 206.15,583.04 206.45,582.63 206.75,582.19 207.05,581.81 207.35,581.61 207.65,581.69 207.95,582.00 208.25,582.40 208.55,582.80 208.85,583.13 209.15,583.38 209.45,583.55 209.75,583.64 210.05,583.69 210.35,583.69 210.65,583.67 210.95,583.62 211.25,583.56 211.55,583.48 211.85,583.36 212.15,583.19 212.45,582.95 212.75,582.57 213.05,582.01 213.35,581.20 213.65,580.09 213.95,578.63 214.25,576.89 214.55,575.08 214.85,573.80 215.15,573.77 215.45,574.98 215.75,576.73 216.05,578.41 216.35,579.79 216.65,580.83 216.95,581.56 217.25,582.03 217.55,582.30 217.85,582.43 218.15,582.46 218.45,582.41 218.75,582.28 219.05,582.06 219.35,581.74 219.65,581.27 219.95,580.60 220.25,579.68 220.55,578.43 220.85,576.80 221.15,574.75 221.45,572.28 221.75,569.59 222.05,567.21 222.35,566.03 222.65,566.64 222.95,568.74 223.25,571.41 223.55,573.99 223.85,576.20 224.15,577.98 224.45,579.36 224.75,580.40 225.05,581.16 225.35,581.71 225.65,582.11 225.95,582.38 226.25,582.58 226.55,582.70 226.85,582.75 227.15,582.71 227.45,582.56 227.75,582.25 228.05,581.74 228.35,580.96 228.65,579.91 228.95,578.60 229.25,577.11 229.55,575.57 229.85,574.19 230.15,573.26 230.45,573.02 230.75,573.56 231.05,574.72 231.35,576.22 231.65,577.81 231.95,579.31 232.25,580.60 232.55,581.62 232.85,582.37 233.15,582.89 233.45,583.22 233.75,583.43 234.05,583.55 234.35,583.60 234.65,583.61 234.95,583.57 235.25,583.47 235.55,583.28 235.85,582.99 236.15,582.60 236.45,582.12 236.75,581.62 237.05,581.20 237.35,581.00 237.65,581.12 237.95,581.51 238.25,582.02 238.55,582.54 238.85,582.99 239.15,583.34 239.45,583.59 239.75,583.76 240.05,583.86 240.35,583.92 240.65,583.95 240.95,583.98 241.25,584.00 241.55,584.01 241.85,584.02 242.15,584.03 242.45,584.04 242.75,584.05 243.05,584.06 243.35,584.06 243.65,584.07 243.95,584.07 244.25,584.08 244.55,584.08 244.85,584.09 245.15,584.09 245.45,584.09 245.75,584.10 246.05,584.10 246.35,584.10 246.65,584.10 246.95,584.10 247.25,584.10 247.55,584.10 247.85,584.10 248.15,584.09 248.45,584.08 248.75,584.07 249.05,584.04 249.35,584.00 249.65,583.94 249.95,583.86 250.25,583.75 250.55,583.62 250.85,583.47 251.15,583.30 251.45,583.15 251.75,583.04 252.05,583.00 252.35,583.06 252.65,583.18 252.95,583.33 253.25,583.48 253.55,583.62 253.85,583.74 254.15,583.83 254.45,583.89 254.75,583.93 255.05,583.95 255.35,583.96 255.65,583.96 255.95,583.95 256.25,583.93 256.55,583.92 256.85,583.90 257.15,583.88 257.45,583.85 257.75,583.82 258.05,583.79 258.35,583.75 258.65,583.70 258.95,583.66 259.25,583.60 259.55,583.54 259.85,583.46 260.15,583.38 260.45,583.28 260.75,583.17 261.05,583.04 261.35,582.89 261.65,582.70 261.95,582.48 262.25,582.21 262.55,581.88 262.85,581.47 263.15,580.95 263.45,580.26 263.75,579.33 264.05,578.02 264.35,576.10 264.65,573.25 264.95,568.95 265.25,562.59 265.55,553.50 265.85,541.60 266.15,529.81 266.45,525.78 266.75,533.33 267.05,545.80 267.35,556.87 267.65,564.99 267.95,570.59 268.25,574.34 268.55,576.84 268.85,578.52 269.15,579.69 269.45,580.52 269.75,581.15 270.05,581.64 270.35,582.02 270.65,582.33 270.95,582.58 271.25,582.79 271.55,582.97 271.85,583.12 272.15,583.24 272.45,583.35 272.75,583.44 273.05,583.53 273.35,583.60 273.65,583.66 273.95,583.72 274.25,583.77 274.55,583.81 274.85,583.85 275.15,583.89 275.45,583.92 275.75,583.95 276.05,583.98 276.35,584.00 276.65,584.02 276.95,584.04 277.25,584.06 277.55,584.08 277.85,584.10 278.15,584.11 278.45,584.12"/>
<rect x="297.98" y="522.85" width="100.50" height="64.55" fill="none" stroke="#4a4a4a" stroke-width="1.2"/>
<text x="299.70" y="518.75" font-family="Liberation Sans, sans-serif" font-weight="normal" font-size="8.4" letter-spacing="0.6" fill="#111" stroke="#111" stroke-width="0.25">Vβ17-Cβ</text>
<path d="M348.60,587.40 V590.50" stroke="#333" stroke-width="0.9"/>
<text x="349.00" y="596.80" font-family="Liberation Sans, sans-serif" font-size="6.1" fill="#1a1a1a" stroke="#1a1a1a" stroke-width="0.3" text-anchor="middle">10</text>
<polyline fill="none" stroke="#262626" stroke-width="1.12" stroke-linejoin="round" points="299.20,584.18 299.50,584.16 299.80,584.17 300.10,584.26 300.40,584.31 300.70,584.27 301.00,584.29 301.30,584.34 301.60,584.35 301.90,584.35 302.20,584.34 302.50,584.30 302.80,584.27 303.10,584.15 303.40,584.19 303.70,584.34 304.00,584.33 304.30,584.33 304.60,584.34 304.90,584.25 305.20,584.09 305.50,584.06 305.80,584.14 306.10,584.20 306.40,584.19 306.70,584.13 307.00,584.15 307.30,584.22 307.60,584.19 307.90,584.12 308.20,584.05 308.50,584.01 308.80,584.07 309.10,584.14 309.40,584.12 309.70,583.98 310.00,583.87 310.30,583.84 310.60,583.72 310.90,583.65 311.20,583.66 311.50,583.69 311.80,583.75 312.10,583.73 312.40,583.62 312.70,583.50 313.00,583.49 313.30,583.43 313.60,583.23 313.90,583.09 314.20,582.98 314.50,582.87 314.80,582.81 315.10,582.70 315.40,582.46 315.70,582.21 316.00,581.88 316.30,581.35 316.60,580.79 316.90,580.15 317.20,579.08 317.50,577.77 317.80,576.38 318.10,574.77 318.40,573.37 318.70,572.97 319.00,573.83 319.30,575.38 319.60,576.83 319.90,578.01 320.20,578.88 320.50,579.46 320.80,579.93 321.10,580.27 321.40,580.45 321.70,580.43 322.00,580.27 322.30,580.11 322.60,579.83 322.90,579.39 323.20,578.84 323.50,577.96 323.80,576.69 324.10,575.24 324.40,574.27 324.70,574.25 325.00,574.91 325.30,575.92 325.60,576.86 325.90,577.63 326.20,578.36 326.50,578.93 326.80,579.16 327.10,579.15 327.40,579.18 327.70,579.13 328.00,579.01 328.30,579.04 328.60,579.06 328.90,578.91 329.20,578.63 329.50,578.32 329.80,577.98 330.10,577.45 330.40,576.67 330.70,575.58 331.00,574.03 331.30,571.65 331.60,568.14 331.90,563.74 332.20,558.70 332.50,553.60 332.80,549.84 333.10,549.05 333.40,551.75 333.70,556.43 334.00,561.40 334.30,565.82 334.60,569.21 334.90,571.67 335.20,573.45 335.50,574.65 335.80,575.43 336.10,575.60 336.40,575.42 336.70,575.35 337.00,575.28 337.30,574.92 337.60,573.94 337.90,572.21 338.20,569.57 338.50,565.66 338.80,560.48 339.10,554.46 339.40,548.40 339.70,543.54 340.00,541.50 340.30,543.24 340.60,547.95 340.90,553.92 341.20,559.87 341.50,564.96 341.80,568.68 342.10,571.10 342.40,572.57 342.70,573.33 343.00,573.61 343.30,573.63 343.60,573.40 343.90,572.83 344.20,571.79 344.50,570.09 344.80,567.51 345.10,563.79 345.40,558.69 345.70,552.10 346.00,544.33 346.30,536.30 346.60,529.54 346.90,525.89 347.20,526.70 347.50,531.72 347.80,539.28 348.10,547.29 348.40,554.54 348.70,560.73 349.00,565.54 349.30,568.90 349.60,571.04 349.90,572.34 350.20,573.27 350.50,573.88 350.80,574.09 351.10,574.28 351.40,574.41 351.70,574.25 352.00,573.92 352.30,573.30 352.60,572.41 352.90,571.28 353.20,569.58 353.50,567.02 353.80,563.64 354.10,559.87 354.40,556.83 354.70,556.34 355.00,558.92 355.30,562.88 355.60,566.78 355.90,570.05 356.20,572.38 356.50,573.95 356.80,575.24 357.10,576.29 357.40,576.95 357.70,577.33 358.00,577.76 358.30,578.18 358.60,578.43 358.90,578.67 359.20,578.84 359.50,578.81 359.80,578.51 360.10,577.89 360.40,576.80 360.70,575.13 361.00,572.82 361.30,570.13 361.60,567.49 361.90,565.22 362.20,563.87 362.50,563.83 362.80,565.03 363.10,567.23 363.40,570.02 363.70,572.94 364.00,575.71 364.30,577.98 364.60,579.61 364.90,580.64 365.20,581.30 365.50,581.78 365.80,582.07 366.10,582.28 366.40,582.51 366.70,582.62 367.00,582.65 367.30,582.63 367.60,582.66 367.90,582.78 368.20,582.90 368.50,583.03 368.80,583.17 369.10,583.26 369.40,583.30 369.70,583.31 370.00,583.33 370.30,583.45 370.60,583.50 370.90,583.55 371.20,583.60 371.50,583.53 371.80,583.44 372.10,583.51 372.40,583.62 372.70,583.54 373.00,583.48 373.30,583.51 373.60,583.50 373.90,583.49 374.20,583.47 374.50,583.32 374.80,582.97 375.10,582.61 375.40,582.18 375.70,581.49 376.00,580.73 376.30,580.12 376.60,579.83 376.90,580.04 377.20,580.74 377.50,581.58 377.80,582.32 378.10,582.85 378.40,583.30 378.70,583.68 379.00,583.91 379.30,584.02 379.60,584.11 379.90,584.19 380.20,584.21 380.50,584.24 380.80,584.31 381.10,584.33 381.40,584.31 381.70,584.27 382.00,584.29 382.30,584.30 382.60,584.18 382.90,583.99 383.20,583.80 383.50,583.61 383.80,583.31 384.10,582.86 384.40,582.32 384.70,581.88 385.00,581.69 385.30,581.88 385.60,582.37 385.90,582.92 386.20,583.41 386.50,583.74 386.80,583.95 387.10,584.18 387.40,584.33 387.70,584.35 388.00,584.39 388.30,584.60 388.60,584.84 388.90,584.88 389.20,584.76 389.50,584.71 389.80,584.78 390.10,584.79 390.40,584.74 390.70,584.78 391.00,584.84 391.30,584.90 391.60,584.95 391.90,584.93 392.20,584.88 392.50,584.81 392.80,584.75 393.10,584.82 393.40,584.89 393.70,584.91 394.00,584.95 394.30,584.97 394.60,584.88 394.90,584.80 395.20,584.82 395.50,584.88 395.80,584.88 396.10,584.87 396.40,584.99 396.70,585.09 397.00,585.04 397.30,584.91 397.60,584.79 397.90,584.82 398.20,584.88 398.50,584.87"/>
<rect x="417.88" y="522.85" width="99.50" height="64.55" fill="none" stroke="#4a4a4a" stroke-width="1.2"/>
<text x="419.60" y="518.75" font-family="Liberation Sans, sans-serif" font-weight="normal" font-size="8.4" letter-spacing="0.6" fill="#111" stroke="#111" stroke-width="0.25">Vβ24-Cβ</text>
<path d="M467.60,587.40 V590.50" stroke="#333" stroke-width="0.9"/>
<text x="468.00" y="596.80" font-family="Liberation Sans, sans-serif" font-size="6.1" fill="#1a1a1a" stroke="#1a1a1a" stroke-width="0.3" text-anchor="middle">10</text>
<polyline fill="none" stroke="#262626" stroke-width="1.12" stroke-linejoin="round" points="419.10,584.55 419.40,584.54 419.70,584.52 420.00,584.51 420.30,584.50 420.60,584.48 420.90,584.47 421.20,584.46 421.50,584.44 421.80,584.43 422.10,584.42 422.40,584.40 422.70,584.39 423.00,584.38 423.30,584.36 423.60,584.35 423.90,584.34 424.20,584.32 424.50,584.31 424.80,584.30 425.10,584.28 425.40,584.27 425.70,584.25 426.00,584.24 426.30,584.23 426.60,584.21 426.90,584.20 427.20,584.19 427.50,584.17 427.80,584.16 428.10,584.15 428.40,584.13 428.70,584.12 429.00,584.11 429.30,584.09 429.60,584.08 429.90,584.07 430.20,584.05 430.50,584.04 430.80,584.03 431.10,584.01 431.40,584.00 431.70,583.99 432.00,583.97 432.30,583.96 432.60,583.95 432.90,583.93 433.20,583.92 433.50,583.91 433.80,583.89 434.10,583.88 434.40,583.86 434.70,583.85 435.00,583.84 435.30,583.82 435.60,583.81 435.90,583.80 436.20,583.78 436.50,583.77 436.80,583.76 437.10,583.74 437.40,583.73 437.70,583.72 438.00,583.70 438.30,583.69 438.60,583.68 438.90,583.66 439.20,583.65 439.50,583.64 439.80,583.62 440.10,583.61 440.40,583.60 440.70,583.58 441.00,583.57 441.30,583.56 441.60,583.54 441.90,583.53 442.20,583.52 442.50,583.50 442.80,583.49 443.10,583.47 443.40,583.46 443.70,583.45 444.00,583.43 444.30,583.42 444.60,583.41 444.90,583.39 445.20,583.38 445.50,583.37 445.80,583.35 446.10,583.34 446.40,583.33 446.70,583.31 447.00,583.30 447.30,583.29 447.60,583.27 447.90,583.26 448.20,583.25 448.50,583.23 448.80,583.22 449.10,583.21 449.40,583.19 449.70,583.18 450.00,583.17 450.30,583.15 450.60,583.14 450.90,583.13 451.20,583.11 451.50,583.10 451.80,583.08 452.10,583.07 452.40,583.06 452.70,583.04 453.00,583.03 453.30,583.02 453.60,583.00 453.90,582.99 454.20,582.98 454.50,582.96 454.80,582.95 455.10,582.94 455.40,582.92 455.70,582.91 456.00,582.90 456.30,582.88 456.60,582.87 456.90,582.86 457.20,582.84 457.50,582.83 457.80,582.82 458.10,582.80 458.40,582.79 458.70,582.78 459.00,582.76 459.30,582.75 459.60,582.74 459.90,582.72 460.20,582.71 460.50,582.69 460.80,582.68 461.10,582.67 461.40,582.65 461.70,582.64 462.00,582.63 462.30,582.61 462.60,582.60 462.90,582.59 463.20,582.57 463.50,582.56 463.80,582.55 464.10,582.53 464.40,582.52 464.70,582.51 465.00,582.49 465.30,582.48 465.60,582.47 465.90,582.45 466.20,582.44 466.50,582.43 466.80,582.41 467.10,582.40 467.40,582.39 467.70,582.37 468.00,582.36 468.30,582.35 468.60,582.33 468.90,582.32 469.20,582.30 469.50,582.29 469.80,582.28 470.10,582.26 470.40,582.25 470.70,582.24 471.00,582.22 471.30,582.21 471.60,582.20 471.90,582.18 472.20,582.17 472.50,582.16 472.80,582.14 473.10,582.13 473.40,582.12 473.70,582.10 474.00,582.09 474.30,582.08 474.60,582.06 474.90,582.05 475.20,582.04 475.50,582.02 475.80,582.01 476.10,582.02 476.40,582.08 476.70,582.14 477.00,582.20 477.30,582.26 477.60,582.32 477.90,582.38 478.20,582.44 478.50,582.50 478.80,582.56 479.10,582.62 479.40,582.68 479.70,582.74 480.00,582.80 480.30,582.86 480.60,582.92 480.90,582.98 481.20,583.04 481.50,583.10 481.80,583.16 482.10,583.22 482.40,583.28 482.70,583.34 483.00,583.40 483.30,583.46 483.60,583.52 483.90,583.58 484.20,583.59 484.50,583.59 484.80,583.58 485.10,583.57 485.40,583.56 485.70,583.56 486.00,583.55 486.30,583.54 486.60,583.53 486.90,583.53 487.20,583.52 487.50,583.51 487.80,583.50 488.10,583.50 488.40,583.49 488.70,583.48 489.00,583.47 489.30,583.47 489.60,583.46 489.90,583.45 490.20,583.44 490.50,583.44 490.80,583.43 491.10,583.42 491.40,583.41 491.70,583.41 492.00,583.40 492.30,583.43 492.60,583.46 492.90,583.49 493.20,583.52 493.50,583.55 493.80,583.58 494.10,583.61 494.40,583.63 494.70,583.65 495.00,583.68 495.30,583.70 495.60,583.72 495.90,583.75 496.20,583.77 496.50,583.79 496.80,583.82 497.10,583.84 497.40,583.86 497.70,583.89 498.00,583.91 498.30,583.93 498.60,583.96 498.90,583.98 499.20,584.00 499.50,584.03 499.80,584.05 500.10,584.07 500.40,584.10 500.70,584.12 501.00,584.14 501.30,584.17 501.60,584.19 501.90,584.21 502.20,584.24 502.50,584.26 502.80,584.28 503.10,584.31 503.40,584.33 503.70,584.35 504.00,584.38 504.30,584.40 504.60,584.42 504.90,584.45 505.20,584.47 505.50,584.49 505.80,584.52 506.10,584.54 506.40,584.56 506.70,584.59 507.00,584.61 507.30,584.63 507.60,584.66 507.90,584.68 508.20,584.70 508.50,584.73 508.80,584.75 509.10,584.77 509.40,584.80 509.70,584.82 510.00,584.84 510.30,584.87 510.60,584.89 510.90,584.91 511.20,584.94 511.50,584.96 511.80,584.98 512.10,585.03 512.40,585.11 512.70,585.20 513.00,585.28 513.30,585.36 513.60,585.45 513.90,585.53 514.20,585.62 514.50,585.70 514.80,585.78 515.10,585.87 515.40,585.95 515.70,586.04 516.00,586.12 516.30,586.20 516.60,586.29 516.90,586.37 517.20,586.40"/>
</svg>
</body></html>
